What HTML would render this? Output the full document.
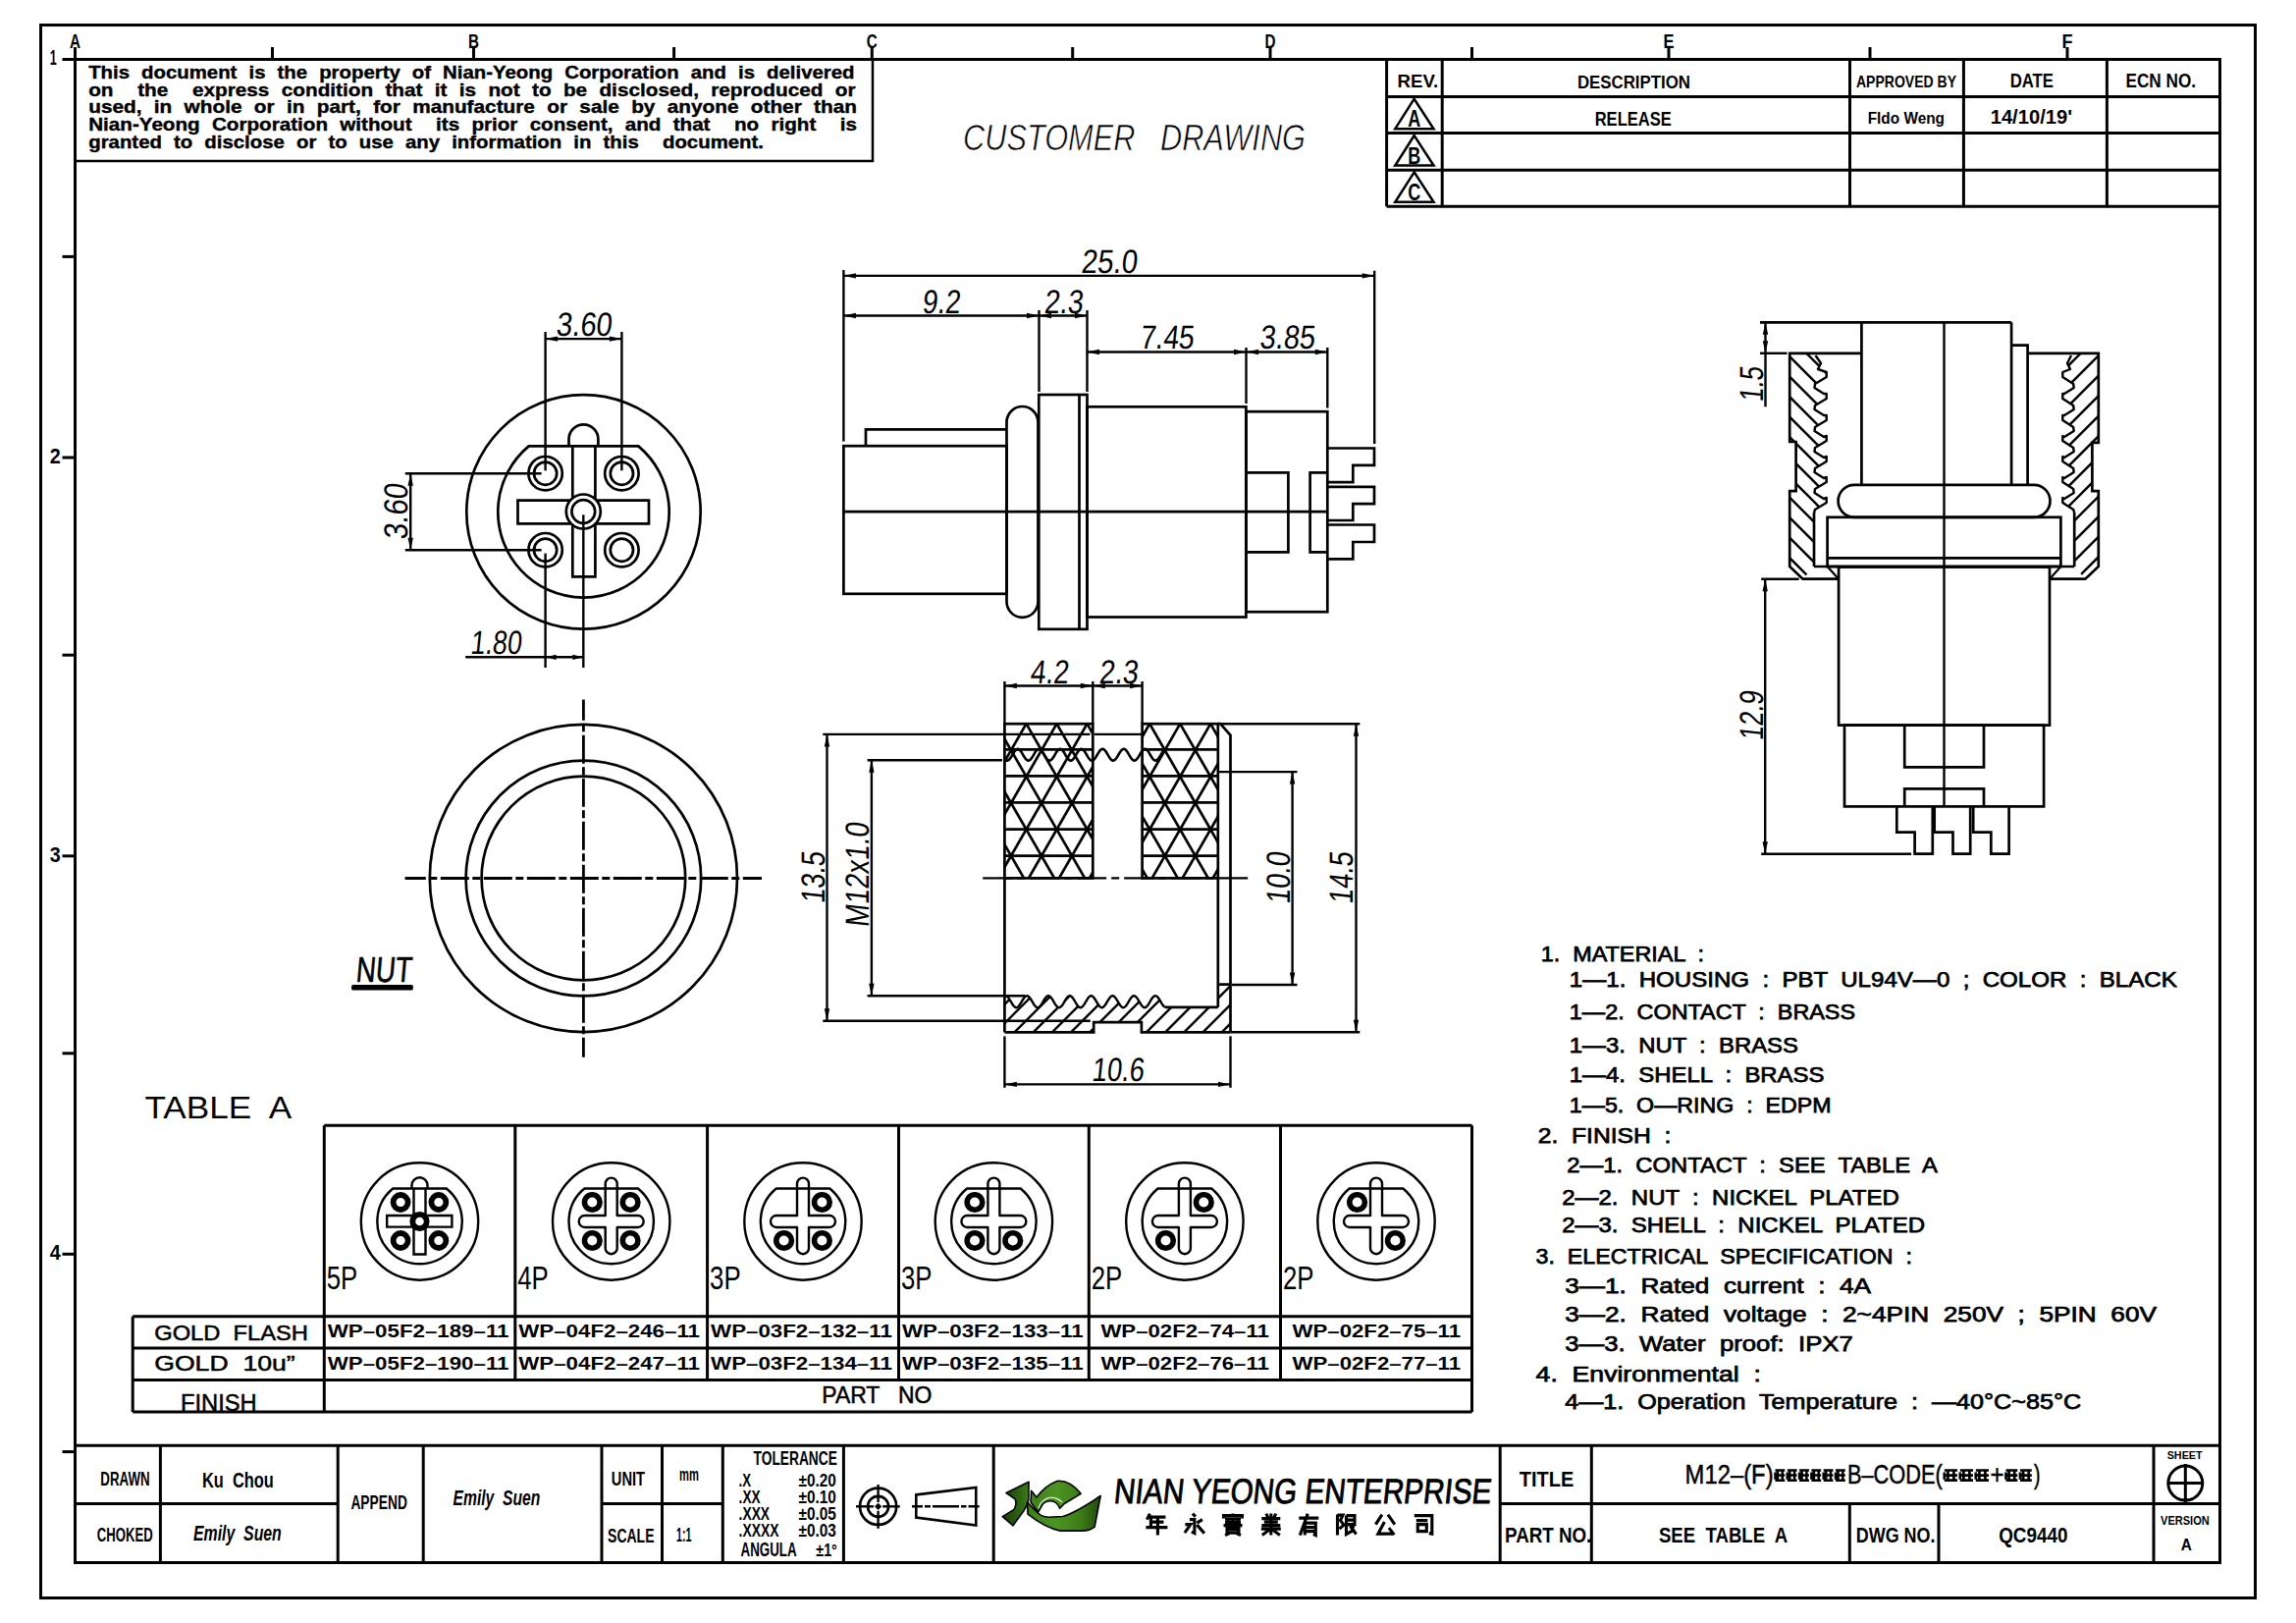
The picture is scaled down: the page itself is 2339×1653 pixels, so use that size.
<!DOCTYPE html>
<html><head><meta charset="utf-8"><style>
html,body{margin:0;padding:0;background:#fff;}
svg{display:block;}
</style></head><body>
<svg width="2339" height="1653" viewBox="0 0 2339 1653" stroke="#000" stroke-linecap="butt" fill="#000">
<rect x="0" y="0" width="2339" height="1653" fill="#fff" stroke="none"/>
<g stroke="none" fill="#000">
</g>
<rect x="41.5" y="25.5" width="2256.0" height="1602.0" stroke-width="3" fill="none" />
<rect x="76.5" y="60.5" width="2185.0" height="1531.0" stroke-width="3" fill="none" />
<line x1="76.5" y1="48.0" x2="76.5" y2="60.5" stroke-width="3" />
<text x="76.5" y="48.6" font-size="20.6" font-weight="bold" font-style="normal" text-anchor="middle" font-family="Liberation Sans" stroke="none" style="white-space:pre" textLength="11.0" lengthAdjust="spacingAndGlyphs" >A</text>
<line x1="277.5" y1="48.0" x2="277.5" y2="60.5" stroke-width="3" />
<line x1="482.5" y1="48.0" x2="482.5" y2="60.5" stroke-width="3" />
<text x="482.5" y="48.6" font-size="20.6" font-weight="bold" font-style="normal" text-anchor="middle" font-family="Liberation Sans" stroke="none" style="white-space:pre" textLength="11.0" lengthAdjust="spacingAndGlyphs" >B</text>
<line x1="686.6" y1="48.0" x2="686.6" y2="60.5" stroke-width="3" />
<line x1="888.3" y1="48.0" x2="888.3" y2="60.5" stroke-width="3" />
<text x="888.3" y="48.6" font-size="20.6" font-weight="bold" font-style="normal" text-anchor="middle" font-family="Liberation Sans" stroke="none" style="white-space:pre" textLength="11.0" lengthAdjust="spacingAndGlyphs" >C</text>
<line x1="1092.7" y1="48.0" x2="1092.7" y2="60.5" stroke-width="3" />
<line x1="1294.0" y1="48.0" x2="1294.0" y2="60.5" stroke-width="3" />
<text x="1294.0" y="48.6" font-size="20.6" font-weight="bold" font-style="normal" text-anchor="middle" font-family="Liberation Sans" stroke="none" style="white-space:pre" textLength="11.0" lengthAdjust="spacingAndGlyphs" >D</text>
<line x1="1499.5" y1="48.0" x2="1499.5" y2="60.5" stroke-width="3" />
<line x1="1700.0" y1="48.0" x2="1700.0" y2="60.5" stroke-width="3" />
<text x="1700.0" y="48.6" font-size="20.6" font-weight="bold" font-style="normal" text-anchor="middle" font-family="Liberation Sans" stroke="none" style="white-space:pre" textLength="11.0" lengthAdjust="spacingAndGlyphs" >E</text>
<line x1="1905.0" y1="48.0" x2="1905.0" y2="60.5" stroke-width="3" />
<line x1="2106.0" y1="48.0" x2="2106.0" y2="60.5" stroke-width="3" />
<text x="2106.0" y="48.6" font-size="20.6" font-weight="bold" font-style="normal" text-anchor="middle" font-family="Liberation Sans" stroke="none" style="white-space:pre" textLength="11.0" lengthAdjust="spacingAndGlyphs" >F</text>
<line x1="63.5" y1="60.5" x2="76.5" y2="60.5" stroke-width="3" />
<text x="50.8" y="66.3" font-size="21.2" font-weight="bold" font-style="normal" text-anchor="start" font-family="Liberation Sans" stroke="none" style="white-space:pre" textLength="7.0" lengthAdjust="spacingAndGlyphs" >1</text>
<line x1="63.5" y1="261.4" x2="76.5" y2="261.4" stroke-width="3" />
<line x1="63.5" y1="466.0" x2="76.5" y2="466.0" stroke-width="3" />
<text x="50.8" y="471.8" font-size="21.2" font-weight="bold" font-style="normal" text-anchor="start" font-family="Liberation Sans" stroke="none" style="white-space:pre" textLength="11.0" lengthAdjust="spacingAndGlyphs" >2</text>
<line x1="63.5" y1="667.2" x2="76.5" y2="667.2" stroke-width="3" />
<line x1="63.5" y1="871.8" x2="76.5" y2="871.8" stroke-width="3" />
<text x="50.8" y="877.6" font-size="21.2" font-weight="bold" font-style="normal" text-anchor="start" font-family="Liberation Sans" stroke="none" style="white-space:pre" textLength="11.0" lengthAdjust="spacingAndGlyphs" >3</text>
<line x1="63.5" y1="1072.8" x2="76.5" y2="1072.8" stroke-width="3" />
<line x1="63.5" y1="1277.3" x2="76.5" y2="1277.3" stroke-width="3" />
<text x="50.8" y="1283.1" font-size="21.2" font-weight="bold" font-style="normal" text-anchor="start" font-family="Liberation Sans" stroke="none" style="white-space:pre" textLength="11.0" lengthAdjust="spacingAndGlyphs" >4</text>
<line x1="63.5" y1="1478.6" x2="76.5" y2="1478.6" stroke-width="3" />
<rect x="76.5" y="60.5" width="812.5" height="103.5" stroke-width="2.5" fill="none" />
<text x="90.2" y="80.3" font-size="19" font-weight="bold" font-style="normal" text-anchor="start" font-family="Liberation Sans" style="white-space:pre" textLength="780.3" lengthAdjust="spacingAndGlyphs" stroke="#000" stroke-width="0.4" word-spacing="6">This document is the property of Nian-Yeong Corporation and is delivered</text>
<text x="90.2" y="97.7" font-size="19" font-weight="bold" font-style="normal" text-anchor="start" font-family="Liberation Sans" style="white-space:pre" textLength="781.3" lengthAdjust="spacingAndGlyphs" stroke="#000" stroke-width="0.4" word-spacing="6">on  the  express condition that it is not to be disclosed, reproduced or</text>
<text x="90.2" y="115.0" font-size="19" font-weight="bold" font-style="normal" text-anchor="start" font-family="Liberation Sans" style="white-space:pre" textLength="782.8" lengthAdjust="spacingAndGlyphs" stroke="#000" stroke-width="0.4" word-spacing="6">used, in whole or in part, for manufacture or sale by anyone other than</text>
<text x="90.2" y="132.7" font-size="19" font-weight="bold" font-style="normal" text-anchor="start" font-family="Liberation Sans" style="white-space:pre" textLength="782.8" lengthAdjust="spacingAndGlyphs" stroke="#000" stroke-width="0.4" word-spacing="6">Nian-Yeong Corporation without  its prior consent, and that  no right  is</text>
<text x="90.2" y="150.5" font-size="19" font-weight="bold" font-style="normal" text-anchor="start" font-family="Liberation Sans" style="white-space:pre" textLength="687.8" lengthAdjust="spacingAndGlyphs" stroke="#000" stroke-width="0.4" word-spacing="6">granted to disclose or to use any information in this  document.</text>
<text x="981.0" y="153.2" font-size="37.5" font-weight="normal" font-style="italic" text-anchor="start" font-family="Liberation Sans" style="white-space:pre" textLength="349.0" lengthAdjust="spacingAndGlyphs" stroke="#fff" stroke-width="0.7">CUSTOMER   DRAWING</text>
<line x1="1412.6" y1="98.5" x2="2261.5" y2="98.5" stroke-width="3" />
<line x1="1412.6" y1="135.6" x2="2261.5" y2="135.6" stroke-width="3" />
<line x1="1412.6" y1="173.2" x2="2261.5" y2="173.2" stroke-width="3" />
<line x1="1412.6" y1="210.3" x2="2261.5" y2="210.3" stroke-width="3" />
<line x1="1412.6" y1="60.5" x2="1412.6" y2="210.3" stroke-width="3" />
<line x1="1469.2" y1="60.5" x2="1469.2" y2="210.3" stroke-width="3" />
<line x1="1884.5" y1="60.5" x2="1884.5" y2="210.3" stroke-width="3" />
<line x1="2000.4" y1="60.5" x2="2000.4" y2="210.3" stroke-width="3" />
<line x1="2146.4" y1="60.5" x2="2146.4" y2="210.3" stroke-width="3" />
<text x="1423.5" y="89.4" font-size="18.3" font-weight="bold" font-style="normal" text-anchor="start" font-family="Liberation Sans" stroke="none" style="white-space:pre" textLength="41.8" lengthAdjust="spacingAndGlyphs" >REV.</text>
<text x="1606.9" y="89.8" font-size="18.3" font-weight="bold" font-style="normal" text-anchor="start" font-family="Liberation Sans" stroke="none" style="white-space:pre" textLength="115.0" lengthAdjust="spacingAndGlyphs" >DESCRIPTION</text>
<text x="1891.0" y="88.6" font-size="16.4" font-weight="bold" font-style="normal" text-anchor="start" font-family="Liberation Sans" stroke="none" style="white-space:pre" textLength="102.0" lengthAdjust="spacingAndGlyphs" >APPROVED BY</text>
<text x="2047.7" y="88.6" font-size="19.8" font-weight="bold" font-style="normal" text-anchor="start" font-family="Liberation Sans" stroke="none" style="white-space:pre" textLength="44.3" lengthAdjust="spacingAndGlyphs" >DATE</text>
<text x="2165.5" y="88.6" font-size="19.8" font-weight="bold" font-style="normal" text-anchor="start" font-family="Liberation Sans" stroke="none" style="white-space:pre" textLength="71.5" lengthAdjust="spacingAndGlyphs" >ECN NO.</text>
<text x="1624.7" y="127.5" font-size="19.3" font-weight="bold" font-style="normal" text-anchor="start" font-family="Liberation Sans" stroke="none" style="white-space:pre" textLength="78.0" lengthAdjust="spacingAndGlyphs" >RELEASE</text>
<text x="1902.7" y="126.4" font-size="16" font-weight="bold" font-style="normal" text-anchor="start" font-family="Liberation Sans" stroke="none" style="white-space:pre" textLength="78.3" lengthAdjust="spacingAndGlyphs" >Fldo Weng</text>
<text x="2027.7" y="126.4" font-size="19.9" font-weight="bold" font-style="normal" text-anchor="start" font-family="Liberation Sans" stroke="none" style="white-space:pre" textLength="83.3" lengthAdjust="spacingAndGlyphs" >14/10/19'</text>
<polygon points="1440.7,100.7 1421.3,131.2 1460.5,131.2" stroke-width="2.5" fill="none" />
<text x="1440.8" y="129.2" font-size="24.7" font-weight="bold" font-style="normal" text-anchor="middle" font-family="Liberation Sans" stroke="none" style="white-space:pre" textLength="13.0" lengthAdjust="spacingAndGlyphs" >A</text>
<polygon points="1440.7,138.0 1421.3,168.5 1460.5,168.5" stroke-width="2.5" fill="none" />
<text x="1440.8" y="166.5" font-size="24.7" font-weight="bold" font-style="normal" text-anchor="middle" font-family="Liberation Sans" stroke="none" style="white-space:pre" textLength="13.0" lengthAdjust="spacingAndGlyphs" >B</text>
<polygon points="1440.7,175.3 1421.3,205.8 1460.5,205.8" stroke-width="2.5" fill="none" />
<text x="1440.8" y="203.8" font-size="24.7" font-weight="bold" font-style="normal" text-anchor="middle" font-family="Liberation Sans" stroke="none" style="white-space:pre" textLength="13.0" lengthAdjust="spacingAndGlyphs" >C</text>
<circle cx="594.5" cy="521.4" r="119.2" stroke-width="2.7" fill="none" />
<path d="M538.7,454.4 A87.2,87.2 0 1 0 650.3,454.4 Z" stroke-width="2.7" fill="none" />
<path d="M579.5,454.4 L579.5,447.3 A14.95,14.95 0 0 1 609.4,447.3 L609.4,454.4" stroke-width="2.7" fill="none" />
<polyline points="583.3,454.4 583.3,509.6 527.5,509.6 527.5,533.4 583.3,533.4 583.3,587.3 606.4,587.3 606.4,533.4 661.0,533.4 661.0,509.6 606.4,509.6 606.4,454.4" stroke-width="2.7" fill="none" />
<circle cx="594.3" cy="521.0" r="17.5" stroke-width="2.7" fill="#fff" />
<circle cx="594.3" cy="521.0" r="11.9" stroke-width="2.7" fill="none" />
<circle cx="555.6" cy="482.2" r="17.2" stroke-width="2.7" fill="#fff" />
<circle cx="555.6" cy="482.2" r="11.6" stroke-width="2.7" fill="none" />
<circle cx="633.4" cy="482.2" r="17.2" stroke-width="2.7" fill="#fff" />
<circle cx="633.4" cy="482.2" r="11.6" stroke-width="2.7" fill="none" />
<circle cx="555.6" cy="560.2" r="17.2" stroke-width="2.7" fill="#fff" />
<circle cx="555.6" cy="560.2" r="11.6" stroke-width="2.7" fill="none" />
<circle cx="633.4" cy="560.2" r="17.2" stroke-width="2.7" fill="#fff" />
<circle cx="633.4" cy="560.2" r="11.6" stroke-width="2.7" fill="none" />
<line x1="555.6" y1="338.0" x2="555.6" y2="479.3" stroke-width="2.4" />
<line x1="633.4" y1="338.0" x2="633.4" y2="479.3" stroke-width="2.4" />
<line x1="555.6" y1="345.1" x2="633.4" y2="345.1" stroke-width="2.4" />
<polygon points="555.6,345.1 568.1,342.4 568.1,347.8" fill="#000" stroke="none"/>
<polygon points="633.4,345.1 620.9,347.8 620.9,342.4" fill="#000" stroke="none"/>
<text transform="translate(566.1,341.5) skewX(-6)" x="0" y="0" font-size="34" font-family="Liberation Sans" stroke="none" textLength="56.7" lengthAdjust="spacingAndGlyphs">3.60</text>
<line x1="412.8" y1="482.2" x2="551.6" y2="482.2" stroke-width="2.4" />
<line x1="412.8" y1="560.2" x2="551.6" y2="560.2" stroke-width="2.4" />
<line x1="418.2" y1="482.2" x2="418.2" y2="560.2" stroke-width="2.4" />
<polygon points="418.2,482.2 420.9,494.7 415.5,494.7" fill="#000" stroke="none"/>
<polygon points="418.2,560.2 415.5,547.7 420.9,547.7" fill="#000" stroke="none"/>
<text transform="translate(414.9,521.5) rotate(-90) skewX(-6)" x="0" y="0" font-size="34" font-weight="normal" text-anchor="middle" font-family="Liberation Sans" stroke="none" style="white-space:pre" textLength="56.9" lengthAdjust="spacingAndGlyphs">3.60</text>
<line x1="555.6" y1="563.6" x2="555.6" y2="680.0" stroke-width="2.4" />
<line x1="594.3" y1="524.3" x2="594.3" y2="680.0" stroke-width="2.4" />
<line x1="474.2" y1="669.3" x2="594.3" y2="669.3" stroke-width="2.4" />
<polygon points="555.6,669.3 566.6,666.7 566.6,671.9" fill="#000" stroke="none"/>
<polygon points="594.3,669.3 583.3,671.9 583.3,666.7" fill="#000" stroke="none"/>
<text transform="translate(478.8,665.9) skewX(-6)" x="0" y="0" font-size="34" font-family="Liberation Sans" stroke="none" textLength="52.1" lengthAdjust="spacingAndGlyphs">1.80</text>
<line x1="859.4" y1="275.0" x2="859.4" y2="449.6" stroke-width="2.4" />
<line x1="1400.2" y1="275.7" x2="1400.2" y2="452.0" stroke-width="2.4" />
<line x1="859.4" y1="280.9" x2="1400.2" y2="280.9" stroke-width="2.4" />
<polygon points="859.4,280.9 871.9,278.2 871.9,283.6" fill="#000" stroke="none"/>
<polygon points="1400.2,280.9 1387.7,283.6 1387.7,278.2" fill="#000" stroke="none"/>
<text transform="translate(1101.0,277.9) skewX(-6)" x="0" y="0" font-size="34" font-family="Liberation Sans" stroke="none" textLength="57.0" lengthAdjust="spacingAndGlyphs">25.0</text>
<line x1="859.4" y1="321.5" x2="1058.5" y2="321.5" stroke-width="2.4" />
<polygon points="859.4,321.5 871.9,318.8 871.9,324.2" fill="#000" stroke="none"/>
<polygon points="1058.5,321.5 1046.0,324.2 1046.0,318.8" fill="#000" stroke="none"/>
<text transform="translate(939.0,318.7) skewX(-6)" x="0" y="0" font-size="34" font-family="Liberation Sans" stroke="none" textLength="38.8" lengthAdjust="spacingAndGlyphs">9.2</text>
<line x1="1058.5" y1="321.5" x2="1107.5" y2="321.5" stroke-width="2.4" />
<polygon points="1058.5,321.5 1071.0,318.8 1071.0,324.2" fill="#000" stroke="none"/>
<polygon points="1107.5,321.5 1095.0,324.2 1095.0,318.8" fill="#000" stroke="none"/>
<text transform="translate(1063.2,318.7) skewX(-6)" x="0" y="0" font-size="34" font-family="Liberation Sans" stroke="none" textLength="39.6" lengthAdjust="spacingAndGlyphs">2.3</text>
<line x1="1058.5" y1="316.0" x2="1058.5" y2="399.0" stroke-width="2.4" />
<line x1="1107.5" y1="316.0" x2="1107.5" y2="399.0" stroke-width="2.4" />
<line x1="1107.5" y1="358.5" x2="1269.5" y2="358.5" stroke-width="2.4" />
<polygon points="1107.5,358.5 1120.0,355.8 1120.0,361.2" fill="#000" stroke="none"/>
<polygon points="1269.5,358.5 1257.0,361.2 1257.0,355.8" fill="#000" stroke="none"/>
<text transform="translate(1160.9,355.3) skewX(-6)" x="0" y="0" font-size="34" font-family="Liberation Sans" stroke="none" textLength="54.9" lengthAdjust="spacingAndGlyphs">7.45</text>
<line x1="1269.5" y1="358.5" x2="1352.3" y2="358.5" stroke-width="2.4" />
<polygon points="1269.5,358.5 1282.0,355.8 1282.0,361.2" fill="#000" stroke="none"/>
<polygon points="1352.3,358.5 1339.8,361.2 1339.8,355.8" fill="#000" stroke="none"/>
<text transform="translate(1282.8,355.3) skewX(-6)" x="0" y="0" font-size="34" font-family="Liberation Sans" stroke="none" textLength="56.2" lengthAdjust="spacingAndGlyphs">3.85</text>
<line x1="1269.5" y1="354.0" x2="1269.5" y2="411.0" stroke-width="2.4" />
<line x1="1352.3" y1="354.0" x2="1352.3" y2="415.5" stroke-width="2.4" />
<polyline points="882.0,454.2 882.0,437.3 1025.5,437.3" stroke-width="2.7" fill="none" />
<rect x="859.4" y="454.2" width="166.1" height="150.6" stroke-width="2.7" fill="none" />
<path d="M1025.5,430 A16,16 0 0 1 1057.5,430 L1057.5,612.8 A16,16 0 0 1 1025.5,612.8 Z" stroke-width="2.7" fill="none" />
<rect x="1058.3" y="402.0" width="49.2" height="238.8" stroke-width="2.7" fill="none" />
<line x1="1099.5" y1="402.0" x2="1099.5" y2="640.8" stroke-width="2.7" />
<rect x="1107.5" y="414.3" width="161.9" height="214.2" stroke-width="2.7" fill="none" />
<rect x="1269.4" y="419.2" width="82.9" height="204.0" stroke-width="2.7" fill="none" />
<polyline points="1269.4,481.3 1312.4,481.3 1312.4,562.3 1269.4,562.3" stroke-width="2.7" fill="none" />
<polyline points="1352.3,481.3 1334.6,481.3 1334.6,562.3 1352.3,562.3" stroke-width="2.7" fill="none" />
<line x1="859.4" y1="521.2" x2="1352.3" y2="521.2" stroke-width="2.7" />
<polyline points="1352.3,456.5 1400.0,456.5 1400.0,473.9 1378.3,473.9 1378.3,491.2 1352.3,491.2" stroke-width="2.7" fill="none" />
<polyline points="1352.3,495.8 1400.0,495.8 1400.0,513.1 1378.3,513.1 1378.3,530.0 1352.3,530.0" stroke-width="2.7" fill="none" />
<polyline points="1352.3,534.5 1400.0,534.5 1400.0,552.0 1378.3,552.0 1378.3,569.3 1352.3,569.3" stroke-width="2.7" fill="none" />
<circle cx="594.4" cy="894.5" r="156.6" stroke-width="2.7" fill="none" />
<circle cx="594.4" cy="894.5" r="119.8" stroke-width="2.7" fill="none" />
<circle cx="594.4" cy="894.5" r="103.8" stroke-width="2.7" fill="none" />
<line x1="412.6" y1="894.5" x2="776.0" y2="894.5" stroke-width="2.8" stroke-dasharray="29,3.5,8,3.5" stroke-dashoffset="7.8"/>
<line x1="594.4" y1="712.5" x2="594.4" y2="1076.7" stroke-width="2.8" stroke-dasharray="29,3.5,8,3.5" stroke-dashoffset="7.8"/>
<text transform="translate(362,999.6) skewX(-5)" x="0" y="0" font-size="36.3" font-family="Liberation Sans" stroke="#000" stroke-width="0.6" textLength="56.8" lengthAdjust="spacingAndGlyphs">NUT</text>
<rect x="358.1" y="1003.1" width="62.7" height="5.5" rx="1.5" fill="#000" stroke="none"/>
<clipPath id="k1"><rect x="1023.4" y="737.2" width="89.89999999999998" height="157.19999999999993"/></clipPath>
<clipPath id="k2"><rect x="1163.6" y="737.2" width="77.20000000000005" height="157.19999999999993"/></clipPath>
<g clip-path="url(#k1)">
<line x1="797.5" y1="737.2" x2="888.1" y2="894.4" stroke-width="2.7" />
<line x1="797.5" y1="737.2" x2="706.9" y2="894.4" stroke-width="2.7" />
<line x1="828.5" y1="737.2" x2="919.1" y2="894.4" stroke-width="2.7" />
<line x1="828.5" y1="737.2" x2="737.9" y2="894.4" stroke-width="2.7" />
<line x1="859.5" y1="737.2" x2="950.1" y2="894.4" stroke-width="2.7" />
<line x1="859.5" y1="737.2" x2="768.9" y2="894.4" stroke-width="2.7" />
<line x1="890.5" y1="737.2" x2="981.1" y2="894.4" stroke-width="2.7" />
<line x1="890.5" y1="737.2" x2="799.9" y2="894.4" stroke-width="2.7" />
<line x1="921.5" y1="737.2" x2="1012.1" y2="894.4" stroke-width="2.7" />
<line x1="921.5" y1="737.2" x2="830.9" y2="894.4" stroke-width="2.7" />
<line x1="952.5" y1="737.2" x2="1043.1" y2="894.4" stroke-width="2.7" />
<line x1="952.5" y1="737.2" x2="861.9" y2="894.4" stroke-width="2.7" />
<line x1="983.5" y1="737.2" x2="1074.1" y2="894.4" stroke-width="2.7" />
<line x1="983.5" y1="737.2" x2="892.9" y2="894.4" stroke-width="2.7" />
<line x1="1014.5" y1="737.2" x2="1105.1" y2="894.4" stroke-width="2.7" />
<line x1="1014.5" y1="737.2" x2="923.9" y2="894.4" stroke-width="2.7" />
<line x1="1045.5" y1="737.2" x2="1136.1" y2="894.4" stroke-width="2.7" />
<line x1="1045.5" y1="737.2" x2="954.9" y2="894.4" stroke-width="2.7" />
<line x1="1076.5" y1="737.2" x2="1167.1" y2="894.4" stroke-width="2.7" />
<line x1="1076.5" y1="737.2" x2="985.9" y2="894.4" stroke-width="2.7" />
<line x1="1107.5" y1="737.2" x2="1198.1" y2="894.4" stroke-width="2.7" />
<line x1="1107.5" y1="737.2" x2="1016.9" y2="894.4" stroke-width="2.7" />
<line x1="1138.5" y1="737.2" x2="1229.1" y2="894.4" stroke-width="2.7" />
<line x1="1138.5" y1="737.2" x2="1047.9" y2="894.4" stroke-width="2.7" />
<line x1="1169.5" y1="737.2" x2="1260.1" y2="894.4" stroke-width="2.7" />
<line x1="1169.5" y1="737.2" x2="1078.9" y2="894.4" stroke-width="2.7" />
<line x1="1200.5" y1="737.2" x2="1291.1" y2="894.4" stroke-width="2.7" />
<line x1="1200.5" y1="737.2" x2="1109.9" y2="894.4" stroke-width="2.7" />
<line x1="1231.5" y1="737.2" x2="1322.1" y2="894.4" stroke-width="2.7" />
<line x1="1231.5" y1="737.2" x2="1140.9" y2="894.4" stroke-width="2.7" />
<line x1="1262.5" y1="737.2" x2="1353.1" y2="894.4" stroke-width="2.7" />
<line x1="1262.5" y1="737.2" x2="1171.9" y2="894.4" stroke-width="2.7" />
<line x1="1293.5" y1="737.2" x2="1384.1" y2="894.4" stroke-width="2.7" />
<line x1="1293.5" y1="737.2" x2="1202.9" y2="894.4" stroke-width="2.7" />
<line x1="1023.4" y1="763.3" x2="1113.3" y2="763.3" stroke-width="2.7" />
<line x1="1023.4" y1="790.4" x2="1113.3" y2="790.4" stroke-width="2.7" />
<line x1="1023.4" y1="817.4" x2="1113.3" y2="817.4" stroke-width="2.7" />
<line x1="1023.4" y1="844.6" x2="1113.3" y2="844.6" stroke-width="2.7" />
<line x1="1023.4" y1="871.6" x2="1113.3" y2="871.6" stroke-width="2.7" />
</g>
<g clip-path="url(#k2)">
<line x1="923.2" y1="737.2" x2="1013.8" y2="894.4" stroke-width="2.7" />
<line x1="923.2" y1="737.2" x2="832.6" y2="894.4" stroke-width="2.7" />
<line x1="954.2" y1="737.2" x2="1044.8" y2="894.4" stroke-width="2.7" />
<line x1="954.2" y1="737.2" x2="863.6" y2="894.4" stroke-width="2.7" />
<line x1="985.2" y1="737.2" x2="1075.8" y2="894.4" stroke-width="2.7" />
<line x1="985.2" y1="737.2" x2="894.6" y2="894.4" stroke-width="2.7" />
<line x1="1016.2" y1="737.2" x2="1106.8" y2="894.4" stroke-width="2.7" />
<line x1="1016.2" y1="737.2" x2="925.6" y2="894.4" stroke-width="2.7" />
<line x1="1047.2" y1="737.2" x2="1137.8" y2="894.4" stroke-width="2.7" />
<line x1="1047.2" y1="737.2" x2="956.6" y2="894.4" stroke-width="2.7" />
<line x1="1078.2" y1="737.2" x2="1168.8" y2="894.4" stroke-width="2.7" />
<line x1="1078.2" y1="737.2" x2="987.6" y2="894.4" stroke-width="2.7" />
<line x1="1109.2" y1="737.2" x2="1199.8" y2="894.4" stroke-width="2.7" />
<line x1="1109.2" y1="737.2" x2="1018.6" y2="894.4" stroke-width="2.7" />
<line x1="1140.2" y1="737.2" x2="1230.8" y2="894.4" stroke-width="2.7" />
<line x1="1140.2" y1="737.2" x2="1049.6" y2="894.4" stroke-width="2.7" />
<line x1="1171.2" y1="737.2" x2="1261.8" y2="894.4" stroke-width="2.7" />
<line x1="1171.2" y1="737.2" x2="1080.6" y2="894.4" stroke-width="2.7" />
<line x1="1202.2" y1="737.2" x2="1292.8" y2="894.4" stroke-width="2.7" />
<line x1="1202.2" y1="737.2" x2="1111.6" y2="894.4" stroke-width="2.7" />
<line x1="1233.2" y1="737.2" x2="1323.8" y2="894.4" stroke-width="2.7" />
<line x1="1233.2" y1="737.2" x2="1142.6" y2="894.4" stroke-width="2.7" />
<line x1="1264.2" y1="737.2" x2="1354.8" y2="894.4" stroke-width="2.7" />
<line x1="1264.2" y1="737.2" x2="1173.6" y2="894.4" stroke-width="2.7" />
<line x1="1295.2" y1="737.2" x2="1385.8" y2="894.4" stroke-width="2.7" />
<line x1="1295.2" y1="737.2" x2="1204.6" y2="894.4" stroke-width="2.7" />
<line x1="1326.2" y1="737.2" x2="1416.8" y2="894.4" stroke-width="2.7" />
<line x1="1326.2" y1="737.2" x2="1235.6" y2="894.4" stroke-width="2.7" />
<line x1="1357.2" y1="737.2" x2="1447.8" y2="894.4" stroke-width="2.7" />
<line x1="1357.2" y1="737.2" x2="1266.6" y2="894.4" stroke-width="2.7" />
<line x1="1388.2" y1="737.2" x2="1478.8" y2="894.4" stroke-width="2.7" />
<line x1="1388.2" y1="737.2" x2="1297.6" y2="894.4" stroke-width="2.7" />
<line x1="1419.2" y1="737.2" x2="1509.8" y2="894.4" stroke-width="2.7" />
<line x1="1419.2" y1="737.2" x2="1328.6" y2="894.4" stroke-width="2.7" />
<line x1="1163.6" y1="763.3" x2="1240.8" y2="763.3" stroke-width="2.7" />
<line x1="1163.6" y1="790.4" x2="1240.8" y2="790.4" stroke-width="2.7" />
<line x1="1163.6" y1="817.4" x2="1240.8" y2="817.4" stroke-width="2.7" />
<line x1="1163.6" y1="844.6" x2="1240.8" y2="844.6" stroke-width="2.7" />
<line x1="1163.6" y1="871.6" x2="1240.8" y2="871.6" stroke-width="2.7" />
</g>
<rect x="1023.4" y="737.2" width="89.9" height="157.2" stroke-width="2.7" fill="none" />
<rect x="1163.6" y="737.2" width="77.2" height="157.2" stroke-width="2.7" fill="none" />
<polyline points="1240.8,737.2 1243.2,737.2 1253.5,748.8 1253.5,1051.3" stroke-width="2.7" fill="none" />
<line x1="1023.4" y1="894.4" x2="1023.4" y2="1051.3" stroke-width="2.7" />
<line x1="1240.8" y1="894.4" x2="1240.8" y2="1025.9" stroke-width="2.7" />
<line x1="1240.8" y1="1002.6" x2="1253.5" y2="1002.6" stroke-width="2.7" />
<line x1="1186.7" y1="1025.9" x2="1240.8" y2="1025.9" stroke-width="2.7" />
<polyline points="1023.4,1051.3 1114.2,1051.3 1114.2,1041.2 1162.9,1041.2 1162.9,1051.3 1253.5,1051.3" stroke-width="2.7" fill="none" />
<path d="M1023.4,1014.4 L1024.4,1014.2 L1025.4,1014.4 L1026.4,1015.2 L1027.4,1016.3 L1028.4,1017.8 L1029.4,1019.4 L1030.4,1021.1 L1031.4,1022.8 L1032.4,1024.2 L1033.4,1025.3 L1034.4,1026.0 L1035.4,1026.2 L1036.4,1025.9 L1037.4,1025.1 L1038.4,1024.0 L1039.4,1022.5 L1040.4,1020.8 L1041.4,1019.1 L1042.4,1017.5 L1043.4,1016.1 L1044.4,1015.0 L1045.4,1014.4 L1046.4,1014.2 L1047.4,1014.6 L1048.4,1015.4 L1049.4,1016.6 L1050.4,1018.1 L1051.4,1019.8 L1052.4,1021.5 L1053.4,1023.1 L1054.4,1024.5 L1055.4,1025.5 L1056.4,1026.1 L1057.4,1026.2 L1058.4,1025.8 L1059.4,1024.9 L1060.4,1023.7 L1061.4,1022.2 L1062.4,1020.5 L1063.4,1018.7 L1064.4,1017.2 L1065.4,1015.8 L1066.4,1014.8 L1067.4,1014.3 L1068.4,1014.2 L1069.4,1014.7 L1070.4,1015.6 L1071.4,1016.9 L1072.4,1018.4 L1073.4,1020.1 L1074.4,1021.8 L1075.4,1023.4 L1076.4,1024.7 L1077.4,1025.6 L1078.4,1026.1 L1079.4,1026.1 L1080.4,1025.6 L1081.4,1024.7 L1082.4,1023.4 L1083.4,1021.8 L1084.4,1020.1 L1085.4,1018.4 L1086.4,1016.9 L1087.4,1015.6 L1088.4,1014.7 L1089.4,1014.2 L1090.4,1014.3 L1091.4,1014.8 L1092.4,1015.8 L1093.4,1017.2 L1094.4,1018.7 L1095.4,1020.5 L1096.4,1022.2 L1097.4,1023.7 L1098.4,1024.9 L1099.4,1025.8 L1100.4,1026.2 L1101.4,1026.1 L1102.4,1025.5 L1103.4,1024.5 L1104.4,1023.1 L1105.4,1021.5 L1106.4,1019.8 L1107.4,1018.1 L1108.4,1016.6 L1109.4,1015.4 L1110.4,1014.6 L1111.4,1014.2 L1112.4,1014.4 L1113.4,1015.0 L1114.4,1016.1 L1115.4,1017.5 L1116.4,1019.1 L1117.4,1020.8 L1118.4,1022.5 L1119.4,1024.0 L1120.4,1025.1 L1121.4,1025.9 L1122.4,1026.2 L1123.4,1026.0 L1124.4,1025.3 L1125.4,1024.2 L1126.4,1022.8 L1127.4,1021.1 L1128.4,1019.4 L1129.4,1017.8 L1130.4,1016.3 L1131.4,1015.2 L1132.4,1014.4 L1133.4,1014.2 L1134.4,1014.4 L1135.4,1015.2 L1136.4,1016.3 L1137.4,1017.8 L1138.4,1019.4 L1139.4,1021.1 L1140.4,1022.8 L1141.4,1024.2 L1142.4,1025.3 L1143.4,1026.0 L1144.4,1026.2 L1145.4,1025.9 L1146.4,1025.1 L1147.4,1024.0 L1148.4,1022.5 L1149.4,1020.8 L1150.4,1019.1 L1151.4,1017.5 L1152.4,1016.1 L1153.4,1015.0 L1154.4,1014.4 L1155.4,1014.2 L1156.4,1014.6 L1157.4,1015.4 L1158.4,1016.6 L1159.4,1018.1 L1160.4,1019.8 L1161.4,1021.5 L1162.4,1023.1 L1163.4,1024.5 L1164.4,1025.5 L1165.4,1026.1 L1166.4,1026.2 L1167.4,1025.8 L1168.4,1024.9 L1169.4,1023.7 L1170.4,1022.2 L1171.4,1020.5 L1172.4,1018.7 L1173.4,1017.2 L1174.4,1015.8 L1175.4,1014.8 L1176.4,1014.3 L1177.4,1014.2 L1178.4,1014.7 L1179.4,1015.6 L1180.4,1016.9 L1181.4,1018.4 L1182.4,1020.1 L1183.4,1021.8 L1184.4,1023.4 L1185.4,1024.7 L1186.4,1025.6 L1186.7,1025.9" stroke-width="2.4" fill="none" stroke-linejoin="round"/>
<clipPath id="h1"><path d="M1023.4,1014.4 L1024.4,1014.2 L1025.4,1014.4 L1026.4,1015.2 L1027.4,1016.3 L1028.4,1017.8 L1029.4,1019.4 L1030.4,1021.1 L1031.4,1022.8 L1032.4,1024.2 L1033.4,1025.3 L1034.4,1026.0 L1035.4,1026.2 L1036.4,1025.9 L1037.4,1025.1 L1038.4,1024.0 L1039.4,1022.5 L1040.4,1020.8 L1041.4,1019.1 L1042.4,1017.5 L1043.4,1016.1 L1044.4,1015.0 L1045.4,1014.4 L1046.4,1014.2 L1047.4,1014.6 L1048.4,1015.4 L1049.4,1016.6 L1050.4,1018.1 L1051.4,1019.8 L1052.4,1021.5 L1053.4,1023.1 L1054.4,1024.5 L1055.4,1025.5 L1056.4,1026.1 L1057.4,1026.2 L1058.4,1025.8 L1059.4,1024.9 L1060.4,1023.7 L1061.4,1022.2 L1062.4,1020.5 L1063.4,1018.7 L1064.4,1017.2 L1065.4,1015.8 L1066.4,1014.8 L1067.4,1014.3 L1068.4,1014.2 L1069.4,1014.7 L1070.4,1015.6 L1071.4,1016.9 L1072.4,1018.4 L1073.4,1020.1 L1074.4,1021.8 L1075.4,1023.4 L1076.4,1024.7 L1077.4,1025.6 L1078.4,1026.1 L1079.4,1026.1 L1080.4,1025.6 L1081.4,1024.7 L1082.4,1023.4 L1083.4,1021.8 L1084.4,1020.1 L1085.4,1018.4 L1086.4,1016.9 L1087.4,1015.6 L1088.4,1014.7 L1089.4,1014.2 L1090.4,1014.3 L1091.4,1014.8 L1092.4,1015.8 L1093.4,1017.2 L1094.4,1018.7 L1095.4,1020.5 L1096.4,1022.2 L1097.4,1023.7 L1098.4,1024.9 L1099.4,1025.8 L1100.4,1026.2 L1101.4,1026.1 L1102.4,1025.5 L1103.4,1024.5 L1104.4,1023.1 L1105.4,1021.5 L1106.4,1019.8 L1107.4,1018.1 L1108.4,1016.6 L1109.4,1015.4 L1110.4,1014.6 L1111.4,1014.2 L1112.4,1014.4 L1113.4,1015.0 L1114.4,1016.1 L1115.4,1017.5 L1116.4,1019.1 L1117.4,1020.8 L1118.4,1022.5 L1119.4,1024.0 L1120.4,1025.1 L1121.4,1025.9 L1122.4,1026.2 L1123.4,1026.0 L1124.4,1025.3 L1125.4,1024.2 L1126.4,1022.8 L1127.4,1021.1 L1128.4,1019.4 L1129.4,1017.8 L1130.4,1016.3 L1131.4,1015.2 L1132.4,1014.4 L1133.4,1014.2 L1134.4,1014.4 L1135.4,1015.2 L1136.4,1016.3 L1137.4,1017.8 L1138.4,1019.4 L1139.4,1021.1 L1140.4,1022.8 L1141.4,1024.2 L1142.4,1025.3 L1143.4,1026.0 L1144.4,1026.2 L1145.4,1025.9 L1146.4,1025.1 L1147.4,1024.0 L1148.4,1022.5 L1149.4,1020.8 L1150.4,1019.1 L1151.4,1017.5 L1152.4,1016.1 L1153.4,1015.0 L1154.4,1014.4 L1155.4,1014.2 L1156.4,1014.6 L1157.4,1015.4 L1158.4,1016.6 L1159.4,1018.1 L1160.4,1019.8 L1161.4,1021.5 L1162.4,1023.1 L1163.4,1024.5 L1164.4,1025.5 L1165.4,1026.1 L1166.4,1026.2 L1167.4,1025.8 L1168.4,1024.9 L1169.4,1023.7 L1170.4,1022.2 L1171.4,1020.5 L1172.4,1018.7 L1173.4,1017.2 L1174.4,1015.8 L1175.4,1014.8 L1176.4,1014.3 L1177.4,1014.2 L1178.4,1014.7 L1179.4,1015.6 L1180.4,1016.9 L1181.4,1018.4 L1182.4,1020.1 L1183.4,1021.8 L1184.4,1023.4 L1185.4,1024.7 L1186.4,1025.6 L1186.7,1025.9 L1240.8,1025.9 L1240.8,1002.6 L1253.5,1002.6 L1253.5,1051.3 L1162.9,1051.3 L1162.9,1041.2 L1114.2,1041.2 L1114.2,1051.3 L1023.4,1051.3 Z"/></clipPath>
<g clip-path="url(#h1)">
<line x1="993.1" y1="1053.3" x2="1053.1" y2="993.3" stroke-width="2.4" />
<line x1="1012.3" y1="1053.3" x2="1072.3" y2="993.3" stroke-width="2.4" />
<line x1="1031.5" y1="1053.3" x2="1091.5" y2="993.3" stroke-width="2.4" />
<line x1="1050.7" y1="1053.3" x2="1110.7" y2="993.3" stroke-width="2.4" />
<line x1="1069.9" y1="1053.3" x2="1129.9" y2="993.3" stroke-width="2.4" />
<line x1="1089.1" y1="1053.3" x2="1149.1" y2="993.3" stroke-width="2.4" />
<line x1="1108.3" y1="1053.3" x2="1168.3" y2="993.3" stroke-width="2.4" />
<line x1="1127.5" y1="1053.3" x2="1187.5" y2="993.3" stroke-width="2.4" />
<line x1="1146.7" y1="1053.3" x2="1206.7" y2="993.3" stroke-width="2.4" />
<line x1="1165.9" y1="1053.3" x2="1225.9" y2="993.3" stroke-width="2.4" />
<line x1="1185.1" y1="1053.3" x2="1245.1" y2="993.3" stroke-width="2.4" />
<line x1="1204.3" y1="1053.3" x2="1264.3" y2="993.3" stroke-width="2.4" />
<line x1="1223.5" y1="1053.3" x2="1283.5" y2="993.3" stroke-width="2.4" />
<line x1="1242.7" y1="1053.3" x2="1302.7" y2="993.3" stroke-width="2.4" />
<line x1="1261.9" y1="1053.3" x2="1321.9" y2="993.3" stroke-width="2.4" />
<line x1="1281.1" y1="1053.3" x2="1341.1" y2="993.3" stroke-width="2.4" />
<line x1="1300.3" y1="1053.3" x2="1360.3" y2="993.3" stroke-width="2.4" />
<line x1="1319.5" y1="1053.3" x2="1379.5" y2="993.3" stroke-width="2.4" />
</g>
<path d="M1023.4,773.1 L1024.4,774.1 L1025.4,774.6 L1026.4,774.7 L1027.4,774.2 L1028.4,773.3 L1029.4,772.0 L1030.4,770.5 L1031.4,768.7 L1032.4,767.0 L1033.4,765.5 L1034.4,764.2 L1035.4,763.3 L1036.4,762.8 L1037.4,762.9 L1038.4,763.4 L1039.4,764.4 L1040.4,765.8 L1041.4,767.4 L1042.4,769.1 L1043.4,770.8 L1044.4,772.3 L1045.4,773.5 L1046.4,774.3 L1047.4,774.7 L1048.4,774.5 L1049.4,773.9 L1050.4,772.8 L1051.4,771.4 L1052.4,769.8 L1053.4,768.1 L1054.4,766.4 L1055.4,764.9 L1056.4,763.8 L1057.4,763.0 L1058.4,762.8 L1059.4,763.0 L1060.4,763.8 L1061.4,764.9 L1062.4,766.4 L1063.4,768.1 L1064.4,769.8 L1065.4,771.4 L1066.4,772.8 L1067.4,773.9 L1068.4,774.5 L1069.4,774.7 L1070.4,774.3 L1071.4,773.5 L1072.4,772.3 L1073.4,770.8 L1074.4,769.1 L1075.4,767.4 L1076.4,765.8 L1077.4,764.4 L1078.4,763.4 L1079.4,762.9 L1080.4,762.8 L1081.4,763.3 L1082.4,764.2 L1083.4,765.5 L1084.4,767.0 L1085.4,768.8 L1086.4,770.5 L1087.4,772.0 L1088.4,773.3 L1089.4,774.2 L1090.4,774.7 L1091.4,774.6 L1092.4,774.1 L1093.4,773.1 L1094.4,771.7 L1095.4,770.1 L1096.4,768.4 L1097.4,766.7 L1098.4,765.2 L1099.4,764.0 L1100.4,763.2 L1101.4,762.8 L1102.4,763.0 L1103.4,763.6 L1104.4,764.7 L1105.4,766.1 L1106.4,767.7 L1107.4,769.4 L1108.4,771.1 L1109.4,772.6 L1110.4,773.7 L1111.4,774.5 L1112.4,774.7 L1113.4,774.5 L1114.4,773.7 L1115.4,772.6 L1116.4,771.1 L1117.4,769.4 L1118.4,767.7 L1119.4,766.1 L1120.4,764.7 L1121.4,763.6 L1122.4,763.0 L1123.4,762.8 L1124.4,763.2 L1125.4,764.0 L1126.4,765.2 L1127.4,766.7 L1128.4,768.4 L1129.4,770.1 L1130.4,771.7 L1131.4,773.1 L1132.4,774.1 L1133.4,774.6 L1134.4,774.7 L1135.4,774.2 L1136.4,773.3 L1137.4,772.0 L1138.4,770.5 L1139.4,768.7 L1140.4,767.0 L1141.4,765.5 L1142.4,764.2 L1143.4,763.3 L1144.4,762.8 L1145.4,762.9 L1146.4,763.4 L1147.4,764.4 L1148.4,765.8 L1149.4,767.4 L1150.4,769.1 L1151.4,770.8 L1152.4,772.3 L1153.4,773.5 L1154.4,774.3 L1155.4,774.7 L1156.4,774.5 L1157.4,773.9 L1158.4,772.8 L1159.4,771.4 L1160.4,769.8 L1161.4,768.1 L1162.4,766.4 L1163.4,764.9 L1164.4,763.8 L1165.4,763.0 L1166.4,762.8 L1167.4,763.0 L1168.4,763.8 L1169.4,764.9 L1170.4,766.4 L1171.4,768.1 L1172.4,769.8 L1173.4,771.4 L1174.4,772.8 L1175.4,773.9 L1176.4,774.5 L1177.4,774.7 L1178.4,774.3 L1179.4,773.5 L1180.4,772.3 L1181.4,770.8 L1182.4,769.1 L1183.4,767.4 L1184.4,765.8 L1185.4,764.4" stroke-width="2.6" fill="none" stroke-linejoin="round"/>
<line x1="1001.2" y1="894.4" x2="1276.2" y2="894.4" stroke-width="2.2" stroke-dasharray="30,5,8,5"/>
<line x1="1023.4" y1="694.0" x2="1023.4" y2="737.2" stroke-width="2.4" />
<line x1="1113.3" y1="694.0" x2="1113.3" y2="737.2" stroke-width="2.4" />
<line x1="1163.6" y1="694.0" x2="1163.6" y2="737.2" stroke-width="2.4" />
<line x1="1023.4" y1="698.5" x2="1113.3" y2="698.5" stroke-width="2.4" />
<polygon points="1023.4,698.5 1035.9,695.8 1035.9,701.2" fill="#000" stroke="none"/>
<polygon points="1113.3,698.5 1100.8,701.2 1100.8,695.8" fill="#000" stroke="none"/>
<line x1="1113.3" y1="698.5" x2="1163.6" y2="698.5" stroke-width="2.4" />
<polygon points="1113.3,698.5 1125.8,695.8 1125.8,701.2" fill="#000" stroke="none"/>
<polygon points="1163.6,698.5 1151.1,701.2 1151.1,695.8" fill="#000" stroke="none"/>
<text transform="translate(1049.1,695.7) skewX(-6)" x="0" y="0" font-size="34" font-family="Liberation Sans" stroke="none" textLength="39.0" lengthAdjust="spacingAndGlyphs">4.2</text>
<text transform="translate(1119.3,695.7) skewX(-6)" x="0" y="0" font-size="34" font-family="Liberation Sans" stroke="none" textLength="39.6" lengthAdjust="spacingAndGlyphs">2.3</text>
<line x1="838.3" y1="747.9" x2="1110.4" y2="747.9" stroke-width="2.4" />
<line x1="1114.8" y1="747.9" x2="1163.0" y2="747.9" stroke-width="2.4" />
<line x1="838.3" y1="1039.8" x2="1110.8" y2="1039.8" stroke-width="2.4" />
<line x1="842.5" y1="747.9" x2="842.5" y2="1039.8" stroke-width="2.4" />
<polygon points="842.5,747.9 845.2,760.4 839.8,760.4" fill="#000" stroke="none"/>
<polygon points="842.5,1039.8 839.8,1027.3 845.2,1027.3" fill="#000" stroke="none"/>
<text transform="translate(839.5,894.2) rotate(-90) skewX(-6)" x="0" y="0" font-size="34" font-weight="normal" text-anchor="middle" font-family="Liberation Sans" stroke="none" style="white-space:pre" textLength="52.6" lengthAdjust="spacingAndGlyphs">13.5</text>
<line x1="883.6" y1="774.2" x2="1021.0" y2="774.2" stroke-width="2.4" />
<line x1="883.6" y1="1014.3" x2="1044.0" y2="1014.3" stroke-width="2.4" />
<line x1="887.9" y1="774.2" x2="887.9" y2="1014.3" stroke-width="2.4" />
<polygon points="887.9,774.2 890.6,786.7 885.2,786.7" fill="#000" stroke="none"/>
<polygon points="887.9,1014.3 885.2,1001.8 890.6,1001.8" fill="#000" stroke="none"/>
<text transform="translate(884.8,891.4) rotate(-90) skewX(-6)" x="0" y="0" font-size="34" font-weight="normal" text-anchor="middle" font-family="Liberation Sans" stroke="none" style="white-space:pre" textLength="106.6" lengthAdjust="spacingAndGlyphs">M12x1.0</text>
<line x1="1242.0" y1="786.1" x2="1321.5" y2="786.1" stroke-width="2.4" />
<line x1="1255.0" y1="1003.0" x2="1321.5" y2="1003.0" stroke-width="2.4" />
<line x1="1316.6" y1="786.1" x2="1316.6" y2="1003.0" stroke-width="2.4" />
<polygon points="1316.6,786.1 1319.3,798.6 1313.9,798.6" fill="#000" stroke="none"/>
<polygon points="1316.6,1003.0 1313.9,990.5 1319.3,990.5" fill="#000" stroke="none"/>
<text transform="translate(1313.8,894.5) rotate(-90) skewX(-6)" x="0" y="0" font-size="34" font-weight="normal" text-anchor="middle" font-family="Liberation Sans" stroke="none" style="white-space:pre" textLength="53.0" lengthAdjust="spacingAndGlyphs">10.0</text>
<line x1="1243.6" y1="737.2" x2="1385.3" y2="737.2" stroke-width="2.4" />
<line x1="1253.5" y1="1051.3" x2="1385.3" y2="1051.3" stroke-width="2.4" />
<line x1="1381.5" y1="737.2" x2="1381.5" y2="1051.3" stroke-width="2.4" />
<polygon points="1381.5,737.2 1384.2,749.7 1378.8,749.7" fill="#000" stroke="none"/>
<polygon points="1381.5,1051.3 1378.8,1038.8 1384.2,1038.8" fill="#000" stroke="none"/>
<text transform="translate(1377.9,894.5) rotate(-90) skewX(-6)" x="0" y="0" font-size="34" font-weight="normal" text-anchor="middle" font-family="Liberation Sans" stroke="none" style="white-space:pre" textLength="53.0" lengthAdjust="spacingAndGlyphs">14.5</text>
<line x1="1023.4" y1="1055.4" x2="1023.4" y2="1107.8" stroke-width="2.4" />
<line x1="1253.5" y1="1055.4" x2="1253.5" y2="1107.8" stroke-width="2.4" />
<line x1="1023.4" y1="1104.4" x2="1253.5" y2="1104.4" stroke-width="2.4" />
<polygon points="1023.4,1104.4 1035.9,1101.7 1035.9,1107.1" fill="#000" stroke="none"/>
<polygon points="1253.5,1104.4 1241.0,1107.1 1241.0,1101.7" fill="#000" stroke="none"/>
<text transform="translate(1111.8,1100.7) skewX(-6)" x="0" y="0" font-size="34" font-family="Liberation Sans" stroke="none" textLength="53.0" lengthAdjust="spacingAndGlyphs">10.6</text>
<line x1="1793.0" y1="328.3" x2="2049.1" y2="328.3" stroke-width="2.7" />
<line x1="1896.4" y1="328.3" x2="1896.4" y2="493.8" stroke-width="2.7" />
<line x1="2049.1" y1="328.3" x2="2049.1" y2="493.8" stroke-width="2.7" />
<polyline points="2049.1,351.7 2065.6,351.7 2065.6,493.8" stroke-width="2.7" fill="none" />
<polyline points="1895.5,359.8 1823.2,359.8 1823.2,450.0 1829.6,450.0 1829.6,500.2 1823.2,500.2 1823.2,577.0 1836.6,589.7 1872.1,589.7" stroke-width="2.7" fill="none" />
<polyline points="2066.5,359.8 2137.8,359.8 2137.8,450.8 2131.4,450.8 2131.4,500.2 2137.8,500.2 2137.8,577.0 2124.3,589.7 2088.0,589.7" stroke-width="2.7" fill="none" />
<path d="M1849.5,362.0 L1855.0,370.0 L1852.0,376.0 L1860.7,379.0 L1860.7,384.0 L1849.0,391.0 L1848.5,395.0 L1858.0,401.0 L1860.7,401.0 L1860.7,406.0 L1849.0,413.0 L1848.5,417.0 L1858.0,423.0 L1860.7,423.0 L1860.7,428.0 L1849.0,435.0 L1848.5,439.0 L1858.0,445.0 L1860.7,444.0 L1860.7,449.0 L1849.0,456.0 L1848.5,460.0 L1858.0,466.0 L1860.7,465.0 L1860.7,470.0 L1849.0,477.0 L1848.5,481.0 L1858.0,487.0 L1860.7,486.0 L1860.7,491.0 L1849.0,498.0 L1848.5,502.0 L1858.0,508.0 L1860.7,507.0 L1860.7,512.0 L1849.0,519.0 L1848.0,522.0" stroke-width="2.4" fill="none" stroke-linejoin="round"/>
<path d="M2110.0,362.0 L2106.0,370.0 L2109.0,376.0 L2101.3,379.0 L2101.3,384.0 L2112.2,391.0 L2112.7,395.0 L2103.0,401.0 L2101.3,401.0 L2101.3,406.0 L2112.2,413.0 L2112.7,417.0 L2103.0,423.0 L2101.3,423.0 L2101.3,428.0 L2112.2,435.0 L2112.7,439.0 L2103.0,445.0 L2101.3,444.0 L2101.3,449.0 L2112.2,456.0 L2112.7,460.0 L2103.0,466.0 L2101.3,465.0 L2101.3,470.0 L2112.2,477.0 L2112.7,481.0 L2103.0,487.0 L2101.3,486.0 L2101.3,491.0 L2112.2,498.0 L2112.7,502.0 L2103.0,508.0 L2101.3,507.0 L2101.3,512.0 L2112.2,519.0 L2113.2,522.0" stroke-width="2.4" fill="none" stroke-linejoin="round"/>
<clipPath id="rl"><path d="M1823.2,359.8 L1852.0,359.8 L1855.0,370.0 L1852.0,376.0 L1860.7,379.0 L1860.7,384.0 L1849.0,391.0 L1848.5,395.0 L1858.0,401.0 L1860.7,401.0 L1860.7,406.0 L1849.0,413.0 L1848.5,417.0 L1858.0,423.0 L1860.7,423.0 L1860.7,428.0 L1849.0,435.0 L1848.5,439.0 L1858.0,445.0 L1860.7,444.0 L1860.7,449.0 L1849.0,456.0 L1848.5,460.0 L1858.0,466.0 L1860.7,465.0 L1860.7,470.0 L1849.0,477.0 L1848.5,481.0 L1858.0,487.0 L1860.7,486.0 L1860.7,491.0 L1849.0,498.0 L1848.5,502.0 L1858.0,508.0 L1860.7,507.0 L1860.7,512.0 L1849.0,519.0 L1848.0,522.0 L1848.0,577.0 L1836.6,589.7 L1823.2,577.0 L1823.2,500.2 L1829.6,500.2 L1829.6,450.0 L1823.2,450.0 Z"/></clipPath>
<g clip-path="url(#rl)">
<line x1="1815.0" y1="293.5" x2="1870.0" y2="348.5" stroke-width="2.4" />
<line x1="1815.0" y1="314.0" x2="1870.0" y2="369.0" stroke-width="2.4" />
<line x1="1815.0" y1="334.5" x2="1870.0" y2="389.5" stroke-width="2.4" />
<line x1="1815.0" y1="355.0" x2="1870.0" y2="410.0" stroke-width="2.4" />
<line x1="1815.0" y1="375.5" x2="1870.0" y2="430.5" stroke-width="2.4" />
<line x1="1815.0" y1="396.0" x2="1870.0" y2="451.0" stroke-width="2.4" />
<line x1="1815.0" y1="416.5" x2="1870.0" y2="471.5" stroke-width="2.4" />
<line x1="1815.0" y1="437.0" x2="1870.0" y2="492.0" stroke-width="2.4" />
<line x1="1815.0" y1="457.5" x2="1870.0" y2="512.5" stroke-width="2.4" />
<line x1="1815.0" y1="478.0" x2="1870.0" y2="533.0" stroke-width="2.4" />
<line x1="1815.0" y1="498.5" x2="1870.0" y2="553.5" stroke-width="2.4" />
<line x1="1815.0" y1="519.0" x2="1870.0" y2="574.0" stroke-width="2.4" />
<line x1="1815.0" y1="539.5" x2="1870.0" y2="594.5" stroke-width="2.4" />
<line x1="1815.0" y1="560.0" x2="1870.0" y2="615.0" stroke-width="2.4" />
<line x1="1815.0" y1="580.5" x2="1870.0" y2="635.5" stroke-width="2.4" />
<line x1="1815.0" y1="601.0" x2="1870.0" y2="656.0" stroke-width="2.4" />
<line x1="1815.0" y1="621.5" x2="1870.0" y2="676.5" stroke-width="2.4" />
</g>
<clipPath id="rr"><path d="M2137.8,359.8 L2108.0,359.8 L2106.0,370.0 L2109.0,376.0 L2101.3,379.0 L2101.3,384.0 L2112.2,391.0 L2112.7,395.0 L2103.0,401.0 L2101.3,401.0 L2101.3,406.0 L2112.2,413.0 L2112.7,417.0 L2103.0,423.0 L2101.3,423.0 L2101.3,428.0 L2112.2,435.0 L2112.7,439.0 L2103.0,445.0 L2101.3,444.0 L2101.3,449.0 L2112.2,456.0 L2112.7,460.0 L2103.0,466.0 L2101.3,465.0 L2101.3,470.0 L2112.2,477.0 L2112.7,481.0 L2103.0,487.0 L2101.3,486.0 L2101.3,491.0 L2112.2,498.0 L2112.7,502.0 L2103.0,508.0 L2101.3,507.0 L2101.3,512.0 L2112.2,519.0 L2113.2,522.0 L2113.2,577.0 L2124.3,589.7 L2137.8,577.0 L2137.8,500.2 L2131.4,500.2 L2131.4,450.8 L2137.8,450.8 Z"/></clipPath>
<g clip-path="url(#rr)">
<line x1="2145.0" y1="293.5" x2="2090.0" y2="348.5" stroke-width="2.4" />
<line x1="2145.0" y1="314.0" x2="2090.0" y2="369.0" stroke-width="2.4" />
<line x1="2145.0" y1="334.5" x2="2090.0" y2="389.5" stroke-width="2.4" />
<line x1="2145.0" y1="355.0" x2="2090.0" y2="410.0" stroke-width="2.4" />
<line x1="2145.0" y1="375.5" x2="2090.0" y2="430.5" stroke-width="2.4" />
<line x1="2145.0" y1="396.0" x2="2090.0" y2="451.0" stroke-width="2.4" />
<line x1="2145.0" y1="416.5" x2="2090.0" y2="471.5" stroke-width="2.4" />
<line x1="2145.0" y1="437.0" x2="2090.0" y2="492.0" stroke-width="2.4" />
<line x1="2145.0" y1="457.5" x2="2090.0" y2="512.5" stroke-width="2.4" />
<line x1="2145.0" y1="478.0" x2="2090.0" y2="533.0" stroke-width="2.4" />
<line x1="2145.0" y1="498.5" x2="2090.0" y2="553.5" stroke-width="2.4" />
<line x1="2145.0" y1="519.0" x2="2090.0" y2="574.0" stroke-width="2.4" />
<line x1="2145.0" y1="539.5" x2="2090.0" y2="594.5" stroke-width="2.4" />
<line x1="2145.0" y1="560.0" x2="2090.0" y2="615.0" stroke-width="2.4" />
<line x1="2145.0" y1="580.5" x2="2090.0" y2="635.5" stroke-width="2.4" />
<line x1="2145.0" y1="601.0" x2="2090.0" y2="656.0" stroke-width="2.4" />
<line x1="2145.0" y1="621.5" x2="2090.0" y2="676.5" stroke-width="2.4" />
</g>
<line x1="1848.0" y1="522.0" x2="1848.0" y2="577.0" stroke-width="2.7" />
<line x1="2113.2" y1="522.0" x2="2113.2" y2="577.0" stroke-width="2.7" />
<line x1="1848.0" y1="577.0" x2="2113.2" y2="577.0" stroke-width="2.7" />
<path d="M1889.1,493.8 L2072,493.8 A16.5,16.5 0 0 1 2072,526.8 L1889.1,526.8 A16.5,16.5 0 0 1 1889.1,493.8 Z" stroke-width="2.7" fill="none" />
<rect x="1861.6" y="526.8" width="237.8" height="50.2" stroke-width="2.7" fill="none" />
<line x1="1861.6" y1="568.3" x2="2099.4" y2="568.3" stroke-width="2.7" />
<line x1="1861.6" y1="577.0" x2="1873.1" y2="589.7" stroke-width="2.2" />
<line x1="2099.4" y1="577.0" x2="2088.0" y2="589.7" stroke-width="2.2" />
<rect x="1873.1" y="577.5" width="214.9" height="161.1" stroke-width="2.7" fill="none" />
<rect x="1879.0" y="738.6" width="203.1" height="82.8" stroke-width="2.7" fill="none" />
<polyline points="1940.2,738.6 1940.2,781.4 2021.0,781.4 2021.0,738.6" stroke-width="2.7" fill="none" />
<polyline points="1940.2,821.4 1940.2,803.3 2021.0,803.3 2021.0,821.4" stroke-width="2.7" fill="none" />
<polyline points="1932.3,821.4 1932.3,847.7 1950.6,847.7 1950.6,869.7 1968.8,869.7 1968.8,821.4" stroke-width="2.7" fill="none" />
<polyline points="1970.7,821.4 1970.7,847.7 1989.5,847.7 1989.5,869.7 2007.2,869.7 2007.2,821.4" stroke-width="2.7" fill="none" />
<polyline points="2010.2,821.4 2010.2,847.7 2028.3,847.7 2028.3,869.7 2046.6,869.7 2046.6,821.4" stroke-width="2.7" fill="none" />
<line x1="1980.5" y1="328.3" x2="1980.5" y2="821.4" stroke-width="2.4" />
<line x1="1793.0" y1="359.8" x2="1820.5" y2="359.8" stroke-width="2.4" />
<line x1="1798.5" y1="328.3" x2="1798.5" y2="359.8" stroke-width="2.4" />
<polygon points="1798.5,328.3 1801.2,340.8 1795.8,340.8" fill="#000" stroke="none"/>
<polygon points="1798.5,359.8 1795.8,347.3 1801.2,347.3" fill="#000" stroke="none"/>
<line x1="1798.5" y1="359.8" x2="1798.5" y2="414.3" stroke-width="2.4" />
<text transform="translate(1795.7,391.9) rotate(-90) skewX(-6)" x="0" y="0" font-size="34" font-weight="normal" text-anchor="middle" font-family="Liberation Sans" stroke="none" style="white-space:pre" textLength="35.7" lengthAdjust="spacingAndGlyphs">1.5</text>
<line x1="1794.2" y1="589.7" x2="1832.7" y2="589.7" stroke-width="2.4" />
<line x1="1794.2" y1="869.7" x2="1947.1" y2="869.7" stroke-width="2.4" />
<line x1="1798.2" y1="589.7" x2="1798.2" y2="869.7" stroke-width="2.4" />
<polygon points="1798.2,589.7 1800.9,602.2 1795.5,602.2" fill="#000" stroke="none"/>
<polygon points="1798.2,869.7 1795.5,857.2 1800.9,857.2" fill="#000" stroke="none"/>
<text transform="translate(1796.2,729.2) rotate(-90) skewX(-6)" x="0" y="0" font-size="34" font-weight="normal" text-anchor="middle" font-family="Liberation Sans" stroke="none" style="white-space:pre" textLength="50.4" lengthAdjust="spacingAndGlyphs">12.9</text>
<text x="147.4" y="1138.6" font-size="30.5" font-weight="normal" font-style="normal" text-anchor="start" font-family="Liberation Sans" stroke="none" style="white-space:pre" textLength="149.8" lengthAdjust="spacingAndGlyphs" >TABLE  A</text>
<line x1="330.3" y1="1146.3" x2="1499.5" y2="1146.3" stroke-width="3" />
<line x1="135.2" y1="1340.7" x2="1499.5" y2="1340.7" stroke-width="3" />
<line x1="135.2" y1="1373.0" x2="1499.5" y2="1373.0" stroke-width="3" />
<line x1="135.2" y1="1405.4" x2="1499.5" y2="1405.4" stroke-width="3" />
<line x1="135.2" y1="1438.0" x2="1499.5" y2="1438.0" stroke-width="3" />
<line x1="135.2" y1="1340.7" x2="135.2" y2="1438.0" stroke-width="3" />
<line x1="330.3" y1="1146.3" x2="330.3" y2="1438.0" stroke-width="3" />
<line x1="524.8" y1="1146.3" x2="524.8" y2="1405.4" stroke-width="3" />
<line x1="720.6" y1="1146.3" x2="720.6" y2="1405.4" stroke-width="3" />
<line x1="915.5" y1="1146.3" x2="915.5" y2="1405.4" stroke-width="3" />
<line x1="1109.3" y1="1146.3" x2="1109.3" y2="1405.4" stroke-width="3" />
<line x1="1304.5" y1="1146.3" x2="1304.5" y2="1405.4" stroke-width="3" />
<line x1="1499.5" y1="1146.3" x2="1499.5" y2="1438.0" stroke-width="3" />
<circle cx="427.5" cy="1244.0" r="59.7" stroke-width="2.4" fill="none" />
<path d="M400.3,1210.5 A43.2,43.2 0 1 0 454.8,1210.5 Z" stroke-width="2.4" fill="none" />
<path d="M419.5,1210.5 L419.5,1207.3 A8.0,8.0 0 0 1 435.5,1207.3 L435.5,1210.5" stroke-width="2.4" fill="none" />
<polyline points="421.5,1210.5 421.5,1238.0 394.2,1238.0 394.2,1249.6 421.5,1249.6 421.5,1277.5 433.5,1277.5 433.5,1249.6 460.4,1249.6 460.4,1238.0 433.5,1238.0 433.5,1210.5" stroke-width="2.4" fill="none" />
<circle cx="427.5" cy="1244.0" r="7.2" stroke-width="5.8" fill="#fff" />
<circle cx="408.1" cy="1224.5" r="7.5" stroke-width="5.8" fill="#fff" />
<circle cx="446.9" cy="1224.5" r="7.5" stroke-width="5.8" fill="#fff" />
<circle cx="408.1" cy="1263.5" r="7.5" stroke-width="5.8" fill="#fff" />
<circle cx="446.9" cy="1263.5" r="7.5" stroke-width="5.8" fill="#fff" />
<text x="332.8" y="1312.5" font-size="32.4" font-weight="normal" font-style="normal" text-anchor="start" font-family="Liberation Sans" stroke="none" style="white-space:pre" textLength="31.5" lengthAdjust="spacingAndGlyphs" >5P</text>
<circle cx="622.7" cy="1244.0" r="59.7" stroke-width="2.4" fill="none" />
<path d="M595.4,1210.5 A43.2,43.2 0 1 0 650.0,1210.5 Z" stroke-width="2.4" fill="none" />
<path d="M616.7,1238.0 L616.7,1205.6 A6.0,6.0 0 0 1 628.7,1205.6 L628.7,1238.0 L649.7,1238.0 A6.0,6.0 0 0 1 649.7,1250.0 L628.7,1250.0 L628.7,1271.2 A6.0,6.0 0 0 1 616.7,1271.2 L616.7,1250.0 L595.7,1250.0 A6.0,6.0 0 0 1 595.7,1238.0 Z" stroke-width="2.4" fill="none" stroke-linejoin="round"/>
<circle cx="603.3" cy="1224.5" r="7.8" stroke-width="5.6" fill="#fff" />
<circle cx="642.1" cy="1224.5" r="7.8" stroke-width="5.6" fill="#fff" />
<circle cx="603.3" cy="1263.5" r="7.8" stroke-width="5.6" fill="#fff" />
<circle cx="642.1" cy="1263.5" r="7.8" stroke-width="5.6" fill="#fff" />
<text x="527.3" y="1312.5" font-size="32.4" font-weight="normal" font-style="normal" text-anchor="start" font-family="Liberation Sans" stroke="none" style="white-space:pre" textLength="31.5" lengthAdjust="spacingAndGlyphs" >4P</text>
<circle cx="818.0" cy="1244.0" r="59.7" stroke-width="2.4" fill="none" />
<path d="M790.8,1210.5 A43.2,43.2 0 1 0 845.3,1210.5 Z" stroke-width="2.4" fill="none" />
<path d="M812.0,1238.0 L812.0,1205.6 A6.0,6.0 0 0 1 824.0,1205.6 L824.0,1238.0 L845.0,1238.0 A6.0,6.0 0 0 1 845.0,1250.0 L824.0,1250.0 L824.0,1271.2 A6.0,6.0 0 0 1 812.0,1271.2 L812.0,1250.0 L791.0,1250.0 A6.0,6.0 0 0 1 791.0,1238.0 Z" stroke-width="2.4" fill="none" stroke-linejoin="round"/>
<circle cx="837.4" cy="1224.5" r="7.8" stroke-width="5.6" fill="#fff" />
<circle cx="798.6" cy="1263.5" r="7.8" stroke-width="5.6" fill="#fff" />
<circle cx="837.4" cy="1263.5" r="7.8" stroke-width="5.6" fill="#fff" />
<text x="723.1" y="1312.5" font-size="32.4" font-weight="normal" font-style="normal" text-anchor="start" font-family="Liberation Sans" stroke="none" style="white-space:pre" textLength="31.5" lengthAdjust="spacingAndGlyphs" >3P</text>
<circle cx="1012.4" cy="1244.0" r="59.7" stroke-width="2.4" fill="none" />
<path d="M985.1,1210.5 A43.2,43.2 0 1 0 1039.7,1210.5 Z" stroke-width="2.4" fill="none" />
<path d="M1006.4,1238.0 L1006.4,1205.6 A6.0,6.0 0 0 1 1018.4,1205.6 L1018.4,1238.0 L1039.4,1238.0 A6.0,6.0 0 0 1 1039.4,1250.0 L1018.4,1250.0 L1018.4,1271.2 A6.0,6.0 0 0 1 1006.4,1271.2 L1006.4,1250.0 L985.4,1250.0 A6.0,6.0 0 0 1 985.4,1238.0 Z" stroke-width="2.4" fill="none" stroke-linejoin="round"/>
<circle cx="993.0" cy="1224.5" r="7.8" stroke-width="5.6" fill="#fff" />
<circle cx="993.0" cy="1263.5" r="7.8" stroke-width="5.6" fill="#fff" />
<circle cx="1031.8" cy="1263.5" r="7.8" stroke-width="5.6" fill="#fff" />
<text x="918.0" y="1312.5" font-size="32.4" font-weight="normal" font-style="normal" text-anchor="start" font-family="Liberation Sans" stroke="none" style="white-space:pre" textLength="31.5" lengthAdjust="spacingAndGlyphs" >3P</text>
<circle cx="1206.9" cy="1244.0" r="59.7" stroke-width="2.4" fill="none" />
<path d="M1179.6,1210.5 A43.2,43.2 0 1 0 1234.2,1210.5 Z" stroke-width="2.4" fill="none" />
<path d="M1200.9,1238.0 L1200.9,1205.6 A6.0,6.0 0 0 1 1212.9,1205.6 L1212.9,1238.0 L1233.9,1238.0 A6.0,6.0 0 0 1 1233.9,1250.0 L1212.9,1250.0 L1212.9,1271.2 A6.0,6.0 0 0 1 1200.9,1271.2 L1200.9,1250.0 L1179.9,1250.0 A6.0,6.0 0 0 1 1179.9,1238.0 Z" stroke-width="2.4" fill="none" stroke-linejoin="round"/>
<circle cx="1226.3" cy="1224.5" r="7.8" stroke-width="5.6" fill="#fff" />
<circle cx="1187.5" cy="1263.5" r="7.8" stroke-width="5.6" fill="#fff" />
<text x="1111.8" y="1312.5" font-size="32.4" font-weight="normal" font-style="normal" text-anchor="start" font-family="Liberation Sans" stroke="none" style="white-space:pre" textLength="31.5" lengthAdjust="spacingAndGlyphs" >2P</text>
<circle cx="1402.0" cy="1244.0" r="59.7" stroke-width="2.4" fill="none" />
<path d="M1374.7,1210.5 A43.2,43.2 0 1 0 1429.3,1210.5 Z" stroke-width="2.4" fill="none" />
<path d="M1396.0,1238.0 L1396.0,1205.6 A6.0,6.0 0 0 1 1408.0,1205.6 L1408.0,1238.0 L1429.0,1238.0 A6.0,6.0 0 0 1 1429.0,1250.0 L1408.0,1250.0 L1408.0,1271.2 A6.0,6.0 0 0 1 1396.0,1271.2 L1396.0,1250.0 L1375.0,1250.0 A6.0,6.0 0 0 1 1375.0,1238.0 Z" stroke-width="2.4" fill="none" stroke-linejoin="round"/>
<circle cx="1382.6" cy="1224.5" r="7.8" stroke-width="5.6" fill="#fff" />
<circle cx="1421.4" cy="1263.5" r="7.8" stroke-width="5.6" fill="#fff" />
<text x="1307.0" y="1312.5" font-size="32.4" font-weight="normal" font-style="normal" text-anchor="start" font-family="Liberation Sans" stroke="none" style="white-space:pre" textLength="31.5" lengthAdjust="spacingAndGlyphs" >2P</text>
<text x="333.8" y="1362.4" font-size="17.5" font-weight="bold" font-style="normal" text-anchor="start" font-family="Liberation Sans" stroke="none" style="white-space:pre" textLength="184.7" lengthAdjust="spacingAndGlyphs" >WP–05F2–189–11</text>
<text x="333.8" y="1395.0" font-size="17.5" font-weight="bold" font-style="normal" text-anchor="start" font-family="Liberation Sans" stroke="none" style="white-space:pre" textLength="184.7" lengthAdjust="spacingAndGlyphs" >WP–05F2–190–11</text>
<text x="528.3" y="1362.4" font-size="17.5" font-weight="bold" font-style="normal" text-anchor="start" font-family="Liberation Sans" stroke="none" style="white-space:pre" textLength="184.7" lengthAdjust="spacingAndGlyphs" >WP–04F2–246–11</text>
<text x="528.3" y="1395.0" font-size="17.5" font-weight="bold" font-style="normal" text-anchor="start" font-family="Liberation Sans" stroke="none" style="white-space:pre" textLength="184.7" lengthAdjust="spacingAndGlyphs" >WP–04F2–247–11</text>
<text x="724.1" y="1362.4" font-size="17.5" font-weight="bold" font-style="normal" text-anchor="start" font-family="Liberation Sans" stroke="none" style="white-space:pre" textLength="184.7" lengthAdjust="spacingAndGlyphs" >WP–03F2–132–11</text>
<text x="724.1" y="1395.0" font-size="17.5" font-weight="bold" font-style="normal" text-anchor="start" font-family="Liberation Sans" stroke="none" style="white-space:pre" textLength="184.7" lengthAdjust="spacingAndGlyphs" >WP–03F2–134–11</text>
<text x="919.0" y="1362.4" font-size="17.5" font-weight="bold" font-style="normal" text-anchor="start" font-family="Liberation Sans" stroke="none" style="white-space:pre" textLength="184.7" lengthAdjust="spacingAndGlyphs" >WP–03F2–133–11</text>
<text x="919.0" y="1395.0" font-size="17.5" font-weight="bold" font-style="normal" text-anchor="start" font-family="Liberation Sans" stroke="none" style="white-space:pre" textLength="184.7" lengthAdjust="spacingAndGlyphs" >WP–03F2–135–11</text>
<text x="1121.4" y="1362.4" font-size="17.5" font-weight="bold" font-style="normal" text-anchor="start" font-family="Liberation Sans" stroke="none" style="white-space:pre" textLength="171.5" lengthAdjust="spacingAndGlyphs" >WP–02F2–74–11</text>
<text x="1121.4" y="1395.0" font-size="17.5" font-weight="bold" font-style="normal" text-anchor="start" font-family="Liberation Sans" stroke="none" style="white-space:pre" textLength="171.5" lengthAdjust="spacingAndGlyphs" >WP–02F2–76–11</text>
<text x="1316.6" y="1362.4" font-size="17.5" font-weight="bold" font-style="normal" text-anchor="start" font-family="Liberation Sans" stroke="none" style="white-space:pre" textLength="171.5" lengthAdjust="spacingAndGlyphs" >WP–02F2–75–11</text>
<text x="1316.6" y="1395.0" font-size="17.5" font-weight="bold" font-style="normal" text-anchor="start" font-family="Liberation Sans" stroke="none" style="white-space:pre" textLength="171.5" lengthAdjust="spacingAndGlyphs" >WP–02F2–77–11</text>
<text x="157.2" y="1365.4" font-size="21.8" font-weight="normal" font-style="normal" text-anchor="start" font-family="Liberation Sans" style="white-space:pre" textLength="156.8" lengthAdjust="spacingAndGlyphs" stroke="#000" stroke-width="0.5">GOLD  FLASH</text>
<text x="157.2" y="1396.4" font-size="21.8" font-weight="normal" font-style="normal" text-anchor="start" font-family="Liberation Sans" style="white-space:pre" textLength="143.5" lengthAdjust="spacingAndGlyphs" stroke="#000" stroke-width="0.5">GOLD  10u”</text>
<text x="184.0" y="1436.8" font-size="24.4" font-weight="normal" font-style="normal" text-anchor="start" font-family="Liberation Sans" style="white-space:pre" textLength="77.7" lengthAdjust="spacingAndGlyphs" stroke="#000" stroke-width="0.5">FINISH</text>
<text x="837.3" y="1428.8" font-size="23" font-weight="normal" font-style="normal" text-anchor="start" font-family="Liberation Sans" style="white-space:pre" textLength="112.1" lengthAdjust="spacingAndGlyphs" stroke="#000" stroke-width="0.5">PART   NO</text>
<text x="1569.8" y="979.0" font-size="22.2" font-weight="normal" font-style="normal" text-anchor="start" font-family="Liberation Sans" style="white-space:pre" textLength="166.2" lengthAdjust="spacingAndGlyphs" stroke="#000" stroke-width="0.75">1.  MATERIAL  :</text>
<text x="1598.8" y="1004.9" font-size="22.2" font-weight="normal" font-style="normal" text-anchor="start" font-family="Liberation Sans" style="white-space:pre" textLength="618.9" lengthAdjust="spacingAndGlyphs" stroke="#000" stroke-width="0.75">1—1.  HOUSING  :  PBT  UL94V—0  ;  COLOR  :  BLACK</text>
<text x="1598.8" y="1038.4" font-size="22.2" font-weight="normal" font-style="normal" text-anchor="start" font-family="Liberation Sans" style="white-space:pre" textLength="291.2" lengthAdjust="spacingAndGlyphs" stroke="#000" stroke-width="0.75">1—2.  CONTACT  :  BRASS</text>
<text x="1598.8" y="1072.0" font-size="22.2" font-weight="normal" font-style="normal" text-anchor="start" font-family="Liberation Sans" style="white-space:pre" textLength="233.2" lengthAdjust="spacingAndGlyphs" stroke="#000" stroke-width="0.75">1—3.  NUT  :  BRASS</text>
<text x="1598.8" y="1101.5" font-size="22.2" font-weight="normal" font-style="normal" text-anchor="start" font-family="Liberation Sans" style="white-space:pre" textLength="259.7" lengthAdjust="spacingAndGlyphs" stroke="#000" stroke-width="0.75">1—4.  SHELL  :  BRASS</text>
<text x="1598.8" y="1133.0" font-size="22.2" font-weight="normal" font-style="normal" text-anchor="start" font-family="Liberation Sans" style="white-space:pre" textLength="266.7" lengthAdjust="spacingAndGlyphs" stroke="#000" stroke-width="0.75">1—5.  O—RING  :  EDPM</text>
<text x="1566.8" y="1164.3" font-size="22.2" font-weight="normal" font-style="normal" text-anchor="start" font-family="Liberation Sans" style="white-space:pre" textLength="135.6" lengthAdjust="spacingAndGlyphs" stroke="#000" stroke-width="0.75">2.  FINISH  :</text>
<text x="1596.3" y="1193.9" font-size="22.2" font-weight="normal" font-style="normal" text-anchor="start" font-family="Liberation Sans" style="white-space:pre" textLength="377.5" lengthAdjust="spacingAndGlyphs" stroke="#000" stroke-width="0.75">2—1.  CONTACT  :  SEE  TABLE  A</text>
<text x="1591.2" y="1226.6" font-size="22.2" font-weight="normal" font-style="normal" text-anchor="start" font-family="Liberation Sans" style="white-space:pre" textLength="343.6" lengthAdjust="spacingAndGlyphs" stroke="#000" stroke-width="0.75">2—2.  NUT  :  NICKEL  PLATED</text>
<text x="1591.2" y="1254.6" font-size="22.2" font-weight="normal" font-style="normal" text-anchor="start" font-family="Liberation Sans" style="white-space:pre" textLength="369.8" lengthAdjust="spacingAndGlyphs" stroke="#000" stroke-width="0.75">2—3.  SHELL  :  NICKEL  PLATED</text>
<text x="1564.6" y="1287.0" font-size="22.2" font-weight="normal" font-style="normal" text-anchor="start" font-family="Liberation Sans" style="white-space:pre" textLength="383.3" lengthAdjust="spacingAndGlyphs" stroke="#000" stroke-width="0.75">3.  ELECTRICAL  SPECIFICATION  :</text>
<text x="1594.2" y="1316.5" font-size="22.2" font-weight="normal" font-style="normal" text-anchor="start" font-family="Liberation Sans" style="white-space:pre" textLength="311.9" lengthAdjust="spacingAndGlyphs" stroke="#000" stroke-width="0.75">3—1.  Rated  current  :  4A</text>
<text x="1594.2" y="1346.0" font-size="22.2" font-weight="normal" font-style="normal" text-anchor="start" font-family="Liberation Sans" style="white-space:pre" textLength="602.8" lengthAdjust="spacingAndGlyphs" stroke="#000" stroke-width="0.75">3—2.  Rated  voltage  :  2~4PIN  250V  ;  5PIN  60V</text>
<text x="1594.2" y="1376.0" font-size="22.2" font-weight="normal" font-style="normal" text-anchor="start" font-family="Liberation Sans" style="white-space:pre" textLength="293.6" lengthAdjust="spacingAndGlyphs" stroke="#000" stroke-width="0.75">3—3.  Water  proof:  IPX7</text>
<text x="1564.6" y="1406.5" font-size="22.2" font-weight="normal" font-style="normal" text-anchor="start" font-family="Liberation Sans" style="white-space:pre" textLength="229.3" lengthAdjust="spacingAndGlyphs" stroke="#000" stroke-width="0.75">4.  Environmental  :</text>
<text x="1594.2" y="1435.4" font-size="22.2" font-weight="normal" font-style="normal" text-anchor="start" font-family="Liberation Sans" style="white-space:pre" textLength="525.9" lengthAdjust="spacingAndGlyphs" stroke="#000" stroke-width="0.75">4—1.  Operation  Temperature  :  —40°C~85°C</text>
<line x1="76.5" y1="1472.2" x2="2261.5" y2="1472.2" stroke-width="3" />
<line x1="163.4" y1="1472.2" x2="163.4" y2="1591.5" stroke-width="3" />
<line x1="344.2" y1="1472.2" x2="344.2" y2="1591.5" stroke-width="3" />
<line x1="431.2" y1="1472.2" x2="431.2" y2="1591.5" stroke-width="3" />
<line x1="613.0" y1="1472.2" x2="613.0" y2="1591.5" stroke-width="3" />
<line x1="674.5" y1="1472.2" x2="674.5" y2="1591.5" stroke-width="3" />
<line x1="736.3" y1="1472.2" x2="736.3" y2="1591.5" stroke-width="3" />
<line x1="859.4" y1="1472.2" x2="859.4" y2="1591.5" stroke-width="3" />
<line x1="1012.2" y1="1472.2" x2="1012.2" y2="1591.5" stroke-width="3" />
<line x1="1528.2" y1="1472.2" x2="1528.2" y2="1591.5" stroke-width="3" />
<line x1="1621.3" y1="1472.2" x2="1621.3" y2="1591.5" stroke-width="3" />
<line x1="2194.0" y1="1472.2" x2="2194.0" y2="1591.5" stroke-width="3" />
<line x1="1884.3" y1="1531.4" x2="1884.3" y2="1591.5" stroke-width="3" />
<line x1="1975.0" y1="1531.4" x2="1975.0" y2="1591.5" stroke-width="3" />
<line x1="76.5" y1="1531.4" x2="344.2" y2="1531.4" stroke-width="3" />
<line x1="613.0" y1="1531.4" x2="736.3" y2="1531.4" stroke-width="3" />
<line x1="1528.2" y1="1531.4" x2="2261.5" y2="1531.4" stroke-width="3" />
<text x="102.3" y="1513.2" font-size="19.9" font-weight="bold" font-style="normal" text-anchor="start" font-family="Liberation Sans" stroke="none" style="white-space:pre" textLength="50.3" lengthAdjust="spacingAndGlyphs" >DRAWN</text>
<text x="98.7" y="1570.2" font-size="21" font-weight="bold" font-style="normal" text-anchor="start" font-family="Liberation Sans" stroke="none" style="white-space:pre" textLength="57.0" lengthAdjust="spacingAndGlyphs" >CHOKED</text>
<text x="206.0" y="1514.6" font-size="22" font-weight="bold" font-style="normal" text-anchor="start" font-family="Liberation Sans" stroke="none" style="white-space:pre" textLength="72.9" lengthAdjust="spacingAndGlyphs" >Ku  Chou</text>
<text x="197.0" y="1569.0" font-size="22.7" font-weight="bold" font-style="italic" text-anchor="start" font-family="Liberation Sans" stroke="none" style="white-space:pre" textLength="89.8" lengthAdjust="spacingAndGlyphs" >Emily  Suen</text>
<text x="357.4" y="1536.6" font-size="20.8" font-weight="bold" font-style="normal" text-anchor="start" font-family="Liberation Sans" stroke="none" style="white-space:pre" textLength="57.5" lengthAdjust="spacingAndGlyphs" >APPEND</text>
<text x="461.6" y="1533.0" font-size="22.7" font-weight="bold" font-style="italic" text-anchor="start" font-family="Liberation Sans" stroke="none" style="white-space:pre" textLength="88.6" lengthAdjust="spacingAndGlyphs" >Emily  Suen</text>
<text x="622.8" y="1513.4" font-size="19.9" font-weight="bold" font-style="normal" text-anchor="start" font-family="Liberation Sans" stroke="none" style="white-space:pre" textLength="34.3" lengthAdjust="spacingAndGlyphs" >UNIT</text>
<text x="692.1" y="1507.8" font-size="18" font-weight="bold" font-style="normal" text-anchor="start" font-family="Liberation Sans" stroke="none" style="white-space:pre" textLength="19.9" lengthAdjust="spacingAndGlyphs" >mm</text>
<text x="619.1" y="1570.5" font-size="20.5" font-weight="bold" font-style="normal" text-anchor="start" font-family="Liberation Sans" stroke="none" style="white-space:pre" textLength="47.4" lengthAdjust="spacingAndGlyphs" >SCALE</text>
<text x="689.0" y="1569.6" font-size="20.2" font-weight="bold" font-style="normal" text-anchor="start" font-family="Liberation Sans" stroke="none" style="white-space:pre" textLength="15.5" lengthAdjust="spacingAndGlyphs" >1:1</text>
<text x="767.6" y="1492.2" font-size="21" font-weight="bold" font-style="normal" text-anchor="start" font-family="Liberation Sans" stroke="none" style="white-space:pre" textLength="85.2" lengthAdjust="spacingAndGlyphs" >TOLERANCE</text>
<text x="752.6" y="1514.3" font-size="18.8" font-weight="bold" font-style="normal" text-anchor="start" font-family="Liberation Sans" stroke="none" style="white-space:pre" textLength="12.5" lengthAdjust="spacingAndGlyphs" >.X</text>
<text x="813.5" y="1514.3" font-size="18.8" font-weight="bold" font-style="normal" text-anchor="start" font-family="Liberation Sans" stroke="none" style="white-space:pre" textLength="38.4" lengthAdjust="spacingAndGlyphs" >±0.20</text>
<text x="752.6" y="1531.2" font-size="18.8" font-weight="bold" font-style="normal" text-anchor="start" font-family="Liberation Sans" stroke="none" style="white-space:pre" textLength="22.0" lengthAdjust="spacingAndGlyphs" >.XX</text>
<text x="813.5" y="1531.2" font-size="18.8" font-weight="bold" font-style="normal" text-anchor="start" font-family="Liberation Sans" stroke="none" style="white-space:pre" textLength="38.4" lengthAdjust="spacingAndGlyphs" >±0.10</text>
<text x="752.6" y="1548.1" font-size="18.8" font-weight="bold" font-style="normal" text-anchor="start" font-family="Liberation Sans" stroke="none" style="white-space:pre" textLength="31.5" lengthAdjust="spacingAndGlyphs" >.XXX</text>
<text x="813.5" y="1548.1" font-size="18.8" font-weight="bold" font-style="normal" text-anchor="start" font-family="Liberation Sans" stroke="none" style="white-space:pre" textLength="38.4" lengthAdjust="spacingAndGlyphs" >±0.05</text>
<text x="752.6" y="1565.0" font-size="18.8" font-weight="bold" font-style="normal" text-anchor="start" font-family="Liberation Sans" stroke="none" style="white-space:pre" textLength="41.0" lengthAdjust="spacingAndGlyphs" >.XXXX</text>
<text x="813.5" y="1565.0" font-size="18.8" font-weight="bold" font-style="normal" text-anchor="start" font-family="Liberation Sans" stroke="none" style="white-space:pre" textLength="38.4" lengthAdjust="spacingAndGlyphs" >±0.03</text>
<text x="754.5" y="1585.1" font-size="19.9" font-weight="bold" font-style="normal" text-anchor="start" font-family="Liberation Sans" stroke="none" style="white-space:pre" textLength="57.1" lengthAdjust="spacingAndGlyphs" >ANGULA</text>
<text x="831.3" y="1585.1" font-size="19" font-weight="bold" font-style="normal" text-anchor="start" font-family="Liberation Sans" stroke="none" style="white-space:pre" textLength="21.5" lengthAdjust="spacingAndGlyphs" >±1°</text>
<circle cx="894.6" cy="1534.3" r="18.6" stroke-width="2.7" fill="none" />
<circle cx="894.6" cy="1534.3" r="10.5" stroke-width="2.7" fill="none" />
<line x1="872.0" y1="1534.3" x2="890.0" y2="1534.3" stroke-width="2.4" />
<line x1="899.2" y1="1534.3" x2="916.8" y2="1534.3" stroke-width="2.4" />
<line x1="894.6" y1="1512.0" x2="894.6" y2="1530.0" stroke-width="2.4" />
<line x1="894.6" y1="1538.8" x2="894.6" y2="1556.8" stroke-width="2.4" />
<polygon points="894.6,1530.7 898.2,1534.3 894.6,1537.8999999999999 891.0,1534.3" fill="#000" stroke="none"/>
<polygon points="933.3,1522.4 994.3,1515.0 994.3,1553.5 933.3,1545.5" stroke-width="2.6" fill="none" />
<line x1="929.0" y1="1534.3" x2="998.0" y2="1534.3" stroke-width="2.4" stroke-dasharray="11,2,6,2,27,2,5.5,2,11"/>
<defs><linearGradient id="lg" gradientUnits="userSpaceOnUse" x1="100" y1="0" x2="2150" y2="0"><stop offset="0" stop-color="#183608"/><stop offset="0.3" stop-color="#3f821c"/><stop offset="0.55" stop-color="#4c9422"/><stop offset="0.8" stop-color="#3c7a18"/><stop offset="1" stop-color="#21440b"/></linearGradient></defs>
<g transform="translate(1015,1500) scale(0.05008)">
<path d="M200,410 L660,185 L655,555 Q620,680 560,770 L340,1075 L125,890 L360,745 Q410,650 395,590 Q390,540 375,530 Z" fill="url(#lg)" stroke="#000" stroke-width="32" stroke-linejoin="round"/>
<path d="M710,365 L820,500 Q1000,250 1250,165 Q1500,150 1720,425 L1390,625 L1290,725 Q1240,590 1120,575 Q980,570 930,660 Q895,730 850,800 L700,600 Z" fill="url(#lg)" stroke="#000" stroke-width="32" stroke-linejoin="round"/>
<path d="M630,600 L830,800 Q920,900 1060,905 L1350,890 Q1600,820 2120,470 L2000,1100 Q1900,1180 1750,1180 L1300,1180 Q1000,1120 640,840 Z" fill="url(#lg)" stroke="#000" stroke-width="32" stroke-linejoin="round"/>
<path d="M860,720 Q900,560 1080,505 Q1240,490 1340,600" fill="none" stroke="#fff" stroke-width="22"/>
</g>
<text transform="translate(1134.1,1531.4) skewX(-6)" x="0" y="0" font-size="35.5" font-family="Liberation Sans" stroke="#000" stroke-width="0.9" textLength="384.2" lengthAdjust="spacingAndGlyphs">NIAN YEONG ENTERPRISE</text>
<path transform="translate(1167.4,1541.6)" d="M4,0 L1,6 M3,3.5 H20 M5,3.5 V14 M5,8.5 H18 M0,14 H22 M12,3.5 V22" fill="none" stroke="#000" stroke-width="3.1" stroke-linejoin="miter"/>
<path transform="translate(1205.9,1541.6)" d="M9,0 L12,3 M6,6 H11 V20 L8,18.5 M1.5,11 H7 L1,19.5 M13.5,9.5 L19,6 M13.5,11.5 L21,20" fill="none" stroke="#000" stroke-width="3.1" stroke-linejoin="miter"/>
<path transform="translate(1245.0,1541.6)" d="M11,0 V2.5 M1.5,5 V2 H20.5 V5 M3,5.5 H19 M3,9 H19 M6,5 V12 M11,5 V12 M16,5 V12 M1.5,12 H20.5 M5,13 H17 V19.5 H5 Z M5,16 H17 M7.5,20 L3,22 M14.5,20 L19,22" fill="none" stroke="#000" stroke-width="3.1" stroke-linejoin="miter"/>
<path transform="translate(1283.8,1541.6)" d="M6,0 L8,4 M16,0 L14,4 M11,0 V5 M1.5,5 H20.5 M4,8.5 H18 M1.5,12 H20.5 M11,5 V22 M1,15.5 H21 M10,16 L2,22 M12,16 L20,22" fill="none" stroke="#000" stroke-width="3.1" stroke-linejoin="miter"/>
<path transform="translate(1322.3,1541.6)" d="M1,4.5 H21 M10,0 L2,22 M7,9.5 H18 V22 L15.5,21 M7,9.5 V22 M7,14 H18 M7,18 H18" fill="none" stroke="#000" stroke-width="3.1" stroke-linejoin="miter"/>
<path transform="translate(1360.5,1541.6)" d="M2,1 V22 M2,1.5 H7.5 L5,7 L8.5,11.5 L4,15.5 M11,2 H19.5 V11 H11 M11,6.5 H19.5 M11,2 V21 L18,17 M14.5,11 L21,21 M19,12.5 L15,15.5" fill="none" stroke="#000" stroke-width="3.1" stroke-linejoin="miter"/>
<path transform="translate(1399.9,1541.6)" d="M8,1 L1.5,11 M14,1 L21,11 M10.5,8.5 L4,20.5 H19 M15,14.5 L20.5,21.5" fill="none" stroke="#000" stroke-width="3.1" stroke-linejoin="miter"/>
<path transform="translate(1438.8,1541.6)" d="M2,2 H20 V20.5 L17,20 M4,7 H15.5 M5.5,11 H14.5 V18 H5.5 Z" fill="none" stroke="#000" stroke-width="3.1" stroke-linejoin="miter"/>
<text x="1547.8" y="1513.9" font-size="22.4" font-weight="bold" font-style="normal" text-anchor="start" font-family="Liberation Sans" stroke="none" style="white-space:pre" textLength="55.5" lengthAdjust="spacingAndGlyphs" >TITLE</text>
<text x="1716.6" y="1510.5" font-size="27.9" font-weight="normal" font-style="normal" text-anchor="start" font-family="Liberation Sans" style="white-space:pre" textLength="90.0" lengthAdjust="spacingAndGlyphs" stroke="#000" stroke-width="0.5">M12–(F)</text>
<path d="M1808.5,1497.5 H1818.3 M1808.5,1502.6 H1818.3 M1808.5,1507.7 H1818.3 M1811.0,1496.5 V1508.7 M1815.8,1496.5 V1508.7 M1808.5,1499.5 V1506.7" stroke-width="2.5" fill="none" />
<path d="M1820.8,1497.5 H1830.6 M1820.8,1502.6 H1830.6 M1820.8,1507.7 H1830.6 M1823.3,1496.5 V1508.7 M1828.1,1496.5 V1508.7 M1820.8,1499.5 V1506.7" stroke-width="2.5" fill="none" />
<path d="M1833.1,1497.5 H1842.9 M1833.1,1502.6 H1842.9 M1833.1,1507.7 H1842.9 M1835.6,1496.5 V1508.7 M1840.4,1496.5 V1508.7 M1833.1,1499.5 V1506.7" stroke-width="2.5" fill="none" />
<path d="M1845.4,1497.5 H1855.2 M1845.4,1502.6 H1855.2 M1845.4,1507.7 H1855.2 M1847.9,1496.5 V1508.7 M1852.7,1496.5 V1508.7 M1845.4,1499.5 V1506.7" stroke-width="2.5" fill="none" />
<path d="M1857.7,1497.5 H1867.5 M1857.7,1502.6 H1867.5 M1857.7,1507.7 H1867.5 M1860.2,1496.5 V1508.7 M1865.0,1496.5 V1508.7 M1857.7,1499.5 V1506.7" stroke-width="2.5" fill="none" />
<path d="M1870.0,1497.5 H1879.8 M1870.0,1502.6 H1879.8 M1870.0,1507.7 H1879.8 M1872.5,1496.5 V1508.7 M1877.3,1496.5 V1508.7 M1870.0,1499.5 V1506.7" stroke-width="2.5" fill="none" />
<text x="1882.0" y="1510.5" font-size="27.9" font-weight="normal" font-style="normal" text-anchor="start" font-family="Liberation Sans" style="white-space:pre" textLength="96.7" lengthAdjust="spacingAndGlyphs" stroke="#000" stroke-width="0.5">B–CODE(</text>
<path d="M1980.8,1497.5 H1994.0 M1980.8,1502.6 H1994.0 M1980.8,1507.7 H1994.0 M1984.4,1496.5 V1508.7 M1990.4,1496.5 V1508.7 M1980.8,1499.5 V1506.7" stroke-width="2.7" fill="none" />
<path d="M1996.8,1497.5 H2010.0 M1996.8,1502.6 H2010.0 M1996.8,1507.7 H2010.0 M2000.4,1496.5 V1508.7 M2006.4,1496.5 V1508.7 M1996.8,1499.5 V1506.7" stroke-width="2.7" fill="none" />
<path d="M2012.8,1497.5 H2026.0 M2012.8,1502.6 H2026.0 M2012.8,1507.7 H2026.0 M2016.4,1496.5 V1508.7 M2022.4,1496.5 V1508.7 M2012.8,1499.5 V1506.7" stroke-width="2.7" fill="none" />
<text x="2027.5" y="1510.5" font-size="27.9" font-weight="normal" font-style="normal" text-anchor="start" font-family="Liberation Sans" style="white-space:pre" textLength="14.0" lengthAdjust="spacingAndGlyphs" stroke="#000" stroke-width="0.5">+</text>
<path d="M2043.5,1497.5 H2055.3 M2043.5,1502.6 H2055.3 M2043.5,1507.7 H2055.3 M2046.6,1496.5 V1508.7 M2052.2,1496.5 V1508.7 M2043.5,1499.5 V1506.7" stroke-width="2.7" fill="none" />
<path d="M2058.0,1497.5 H2069.8 M2058.0,1502.6 H2069.8 M2058.0,1507.7 H2069.8 M2061.1,1496.5 V1508.7 M2066.7,1496.5 V1508.7 M2058.0,1499.5 V1506.7" stroke-width="2.7" fill="none" />
<text x="2072.0" y="1510.5" font-size="27.9" font-weight="normal" font-style="normal" text-anchor="start" font-family="Liberation Sans" style="white-space:pre" textLength="6.5" lengthAdjust="spacingAndGlyphs" stroke="#000" stroke-width="0.5">)</text>
<text x="1533.0" y="1571.0" font-size="21.2" font-weight="bold" font-style="normal" text-anchor="start" font-family="Liberation Sans" stroke="none" style="white-space:pre" textLength="88.3" lengthAdjust="spacingAndGlyphs" >PART NO.</text>
<text x="1689.9" y="1571.0" font-size="21.2" font-weight="bold" font-style="normal" text-anchor="start" font-family="Liberation Sans" stroke="none" style="white-space:pre" textLength="131.3" lengthAdjust="spacingAndGlyphs" >SEE  TABLE  A</text>
<text x="1890.8" y="1571.0" font-size="21.2" font-weight="bold" font-style="normal" text-anchor="start" font-family="Liberation Sans" stroke="none" style="white-space:pre" textLength="80.7" lengthAdjust="spacingAndGlyphs" >DWG NO.</text>
<text x="2036.2" y="1571.0" font-size="21.2" font-weight="bold" font-style="normal" text-anchor="start" font-family="Liberation Sans" stroke="none" style="white-space:pre" textLength="70.2" lengthAdjust="spacingAndGlyphs" >QC9440</text>
<text x="2207.7" y="1486.1" font-size="11.8" font-weight="bold" font-style="normal" text-anchor="start" font-family="Liberation Sans" stroke="none" style="white-space:pre" textLength="35.9" lengthAdjust="spacingAndGlyphs" >SHEET</text>
<circle cx="2226.3" cy="1510.6" r="17.5" stroke-width="3" fill="none" />
<line x1="2208.8" y1="1510.6" x2="2243.8" y2="1510.6" stroke-width="3" />
<line x1="2226.3" y1="1491.0" x2="2226.3" y2="1531.4" stroke-width="3" />
<text x="2201.0" y="1553.1" font-size="12.8" font-weight="bold" font-style="normal" text-anchor="start" font-family="Liberation Sans" stroke="none" style="white-space:pre" textLength="49.8" lengthAdjust="spacingAndGlyphs" >VERSION</text>
<text x="2221.7" y="1579.2" font-size="17.4" font-weight="bold" font-style="normal" text-anchor="start" font-family="Liberation Sans" stroke="none" style="white-space:pre" textLength="11.1" lengthAdjust="spacingAndGlyphs" >A</text>
</svg>
</body></html>
